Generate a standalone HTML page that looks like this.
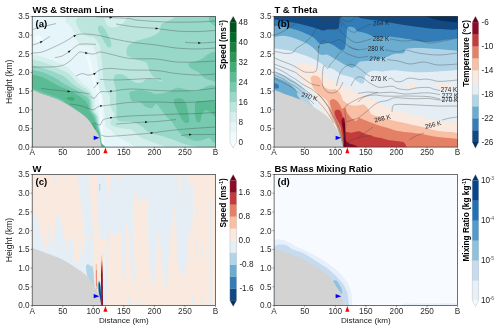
<!DOCTYPE html><html><head><meta charset="utf-8"><title>fig</title><style>html,body{margin:0;padding:0;background:#fff;}svg{display:block;}</style></head><body><svg width="500" height="330" viewBox="0 0 500 330">
<rect width="500" height="330" fill="#fff"/>
<defs><filter id="nf" x="0" y="0" width="500" height="330" filterUnits="userSpaceOnUse" color-interpolation-filters="sRGB"><feOffset dx="0" dy="0"/></filter>
<clipPath id="cpa"><rect x="32.2" y="16.4" width="183.3" height="130.7"/></clipPath>
<clipPath id="cpb"><rect x="274.1" y="16.4" width="183.5" height="130.7"/></clipPath>
<clipPath id="cpc"><rect x="32.2" y="174.5" width="183.3" height="131.0"/></clipPath>
<clipPath id="cpd"><rect x="274.1" y="174.5" width="183.5" height="131.0"/></clipPath>
</defs>
<g clip-path="url(#cpa)">
<rect x="32" y="16" width="184" height="132" fill="#98d8c9"/>
<path d="M130.0,92.0C131.7,91.0 136.7,90.0 140.0,90.0C143.3,90.0 147.3,91.3 150.0,92.0C152.7,92.7 153.0,94.0 156.0,94.0C159.0,94.0 164.7,93.0 168.0,92.0C171.3,91.0 173.3,88.5 176.0,88.0C178.7,87.5 180.7,88.5 184.0,89.0C187.3,89.5 190.7,91.2 196.0,91.0C201.3,90.8 212.7,79.9 216.0,88.0C219.3,96.1 217.2,131.2 216.0,139.5C214.8,147.8 211.0,138.0 209.0,138.0C207.0,138.0 205.8,139.0 204.0,139.5C202.2,140.0 200.0,140.9 198.0,141.0C196.0,141.1 194.7,141.0 192.0,140.0C189.3,139.0 184.7,137.0 182.0,135.0C179.3,133.0 177.7,130.2 176.0,128.0C174.3,125.8 173.7,124.0 172.0,122.0C170.3,120.0 168.0,118.3 166.0,116.0C164.0,113.7 161.7,110.0 160.0,108.0C158.3,106.0 157.3,104.0 156.0,104.0C154.7,104.0 153.7,107.5 152.0,108.0C150.3,108.5 148.0,108.0 146.0,107.0C144.0,106.0 142.3,103.0 140.0,102.0C137.7,101.0 133.7,102.0 132.0,101.0C130.3,100.0 130.3,97.5 130.0,96.0C129.7,94.5 128.3,93.0 130.0,92.0Z" fill="#77c9b0" />
<path d="M188.6,62.9C189.5,61.9 193.1,62.2 195.5,61.4C197.9,60.6 201.0,59.4 203.0,58.3C205.0,57.1 205.4,55.2 207.6,54.5C209.8,53.8 214.6,49.6 216.0,53.8C217.4,58.0 216.9,75.1 216.0,79.5C215.1,83.9 212.5,80.5 210.6,80.3C208.7,80.0 206.3,79.1 204.5,78.0C202.7,76.9 201.5,74.8 200.0,73.5C198.5,72.2 197.2,71.5 195.5,70.5C193.8,69.5 191.2,68.7 190.0,67.4C188.8,66.1 187.7,63.9 188.6,62.9Z" fill="#77c9b0" />
<path d="M210.0,15.0C211.3,14.2 215.8,13.2 217.0,15.0C218.2,16.8 217.8,24.5 217.0,26.0C216.2,27.5 213.3,25.0 212.0,24.0C210.7,23.0 209.3,21.5 209.0,20.0C208.7,18.5 208.7,15.8 210.0,15.0Z" fill="#77c9b0" />
<path d="M174.0,100.0C175.0,98.5 180.0,98.3 182.0,99.0C184.0,99.7 185.0,101.8 186.0,104.0C187.0,106.2 187.5,109.0 188.0,112.0C188.5,115.0 189.7,120.3 189.0,122.0C188.3,123.7 185.5,123.0 184.0,122.0C182.5,121.0 181.3,118.3 180.0,116.0C178.7,113.7 177.0,110.7 176.0,108.0C175.0,105.3 173.0,101.5 174.0,100.0Z" fill="#5abb95" />
<path d="M196.0,102.0C197.5,100.5 200.7,101.0 204.0,101.0C207.3,101.0 214.0,99.5 216.0,102.0C218.0,104.5 217.0,114.3 216.0,116.0C215.0,117.7 211.7,113.0 210.0,112.0C208.3,111.0 207.3,109.7 206.0,110.0C204.7,110.3 203.0,112.0 202.0,114.0C201.0,116.0 201.0,121.0 200.0,122.0C199.0,123.0 196.8,122.0 196.0,120.0C195.2,118.0 195.0,113.0 195.0,110.0C195.0,107.0 194.5,103.5 196.0,102.0Z" fill="#5abb95" />
<path d="M30.0,14.0C52.7,1.3 144.2,12.2 166.0,14.0C187.8,15.8 162.2,22.0 161.0,25.0C159.8,28.0 160.8,30.0 159.0,32.0C157.2,34.0 153.8,35.5 150.0,37.0C146.2,38.5 139.7,39.5 136.0,41.0C132.3,42.5 129.6,44.2 128.0,46.0C126.4,47.8 126.5,50.3 126.5,52.0C126.5,53.7 126.0,54.7 128.0,56.0C130.0,57.3 135.4,58.8 138.5,60.0C141.6,61.2 144.7,61.3 146.6,63.3C148.5,65.3 148.7,69.6 150.0,72.0C151.3,74.4 152.8,76.4 154.6,77.7C156.4,79.0 159.4,79.0 161.0,80.0C162.6,81.0 164.0,83.2 164.0,83.4C164.0,83.6 163.7,81.8 161.0,81.0C158.3,80.2 151.2,78.2 148.0,78.5C144.8,78.8 144.2,81.8 142.0,82.5C139.8,83.2 137.2,83.2 135.0,82.5C132.8,81.8 131.1,79.8 129.0,78.5C126.9,77.2 124.7,75.2 122.5,74.5C120.3,73.8 117.5,73.6 116.0,74.5C114.5,75.4 113.6,77.4 113.6,80.0C113.6,82.6 115.6,86.7 116.0,90.0C116.4,93.3 116.1,96.7 116.2,100.0C116.3,103.3 116.4,106.8 116.5,110.0C116.6,113.2 116.2,117.1 117.0,119.0C117.8,120.9 118.5,121.0 121.0,121.5C123.5,122.0 128.7,121.2 132.0,122.0C135.3,122.8 138.0,124.2 141.0,126.0C144.0,127.8 146.5,131.3 150.0,133.0C153.5,134.7 158.0,134.8 162.0,136.0C166.0,137.2 170.3,138.7 174.0,140.0C177.7,141.3 180.3,142.5 184.0,144.0C187.7,145.5 211.7,148.2 196.0,149.0C180.3,149.8 112.7,155.5 90.0,149.0C67.3,142.5 70.0,119.8 60.0,110.0C50.0,100.2 35.0,106.0 30.0,90.0C25.0,74.0 7.3,26.7 30.0,14.0Z" fill="#bce6dd" />
<path d="M98.0,27.0C98.3,26.1 99.5,25.3 100.5,25.5C101.5,25.7 102.8,26.4 104.0,28.0C105.2,29.6 106.8,32.7 108.0,35.0C109.2,37.3 110.5,40.1 111.0,42.0C111.5,43.9 111.5,45.7 111.0,46.5C110.5,47.3 109.1,47.8 108.0,47.0C106.9,46.2 105.7,43.8 104.5,42.0C103.3,40.2 102.0,37.8 101.0,36.0C100.0,34.2 99.0,32.5 98.5,31.0C98.0,29.5 97.7,27.9 98.0,27.0Z" fill="#98d8c9" />
<path d="M30.0,14.0C37.3,4.7 66.3,12.7 74.0,14.0C81.7,15.3 75.2,19.5 76.0,22.0C76.8,24.5 77.8,27.0 79.0,29.0C80.2,31.0 81.3,32.8 83.0,34.0C84.7,35.2 87.1,35.9 89.0,36.5C90.9,37.1 92.5,36.2 94.2,37.5C95.9,38.8 98.0,42.2 99.0,44.3C100.0,46.4 100.2,48.3 100.5,50.0C100.8,51.7 100.7,52.1 101.0,54.5C101.3,56.9 101.9,61.4 102.2,64.2C102.5,67.0 102.6,68.9 102.8,71.5C103.0,74.1 102.9,76.9 103.4,80.0C103.9,83.1 105.0,87.3 106.0,90.0C107.0,92.7 108.8,93.7 109.5,96.0C110.2,98.3 109.8,101.7 110.2,104.0C110.6,106.3 111.3,108.3 112.0,110.0C112.7,111.7 114.5,112.5 114.5,114.0C114.5,115.5 112.7,117.3 112.0,119.0C111.3,120.7 109.8,122.7 110.5,124.0C111.2,125.3 113.8,126.2 116.0,127.0C118.2,127.8 121.3,128.0 124.0,128.5C126.7,129.0 129.3,128.6 132.0,130.0C134.7,131.4 136.7,135.0 140.0,137.0C143.3,139.0 148.0,140.0 152.0,142.0C156.0,144.0 173.5,147.8 164.0,149.0C154.5,150.2 110.7,157.2 95.0,149.0C79.3,140.8 80.8,113.2 70.0,100.0C59.2,86.8 36.7,84.3 30.0,70.0C23.3,55.7 22.7,23.3 30.0,14.0Z" fill="#d4efec" />
<path d="M104.0,14.0C107.5,13.0 122.7,12.7 126.0,14.0C129.3,15.3 125.7,19.8 124.0,22.0C122.3,24.2 118.7,26.3 116.0,27.0C113.3,27.7 109.8,27.2 108.0,26.0C106.2,24.8 105.7,22.0 105.0,20.0C104.3,18.0 100.5,15.0 104.0,14.0Z" fill="#d4efec" />
<path d="M30.0,14.0C35.3,6.3 56.0,12.7 62.0,14.0C68.0,15.3 64.5,19.8 66.0,22.0C67.5,24.2 69.7,25.2 71.0,27.0C72.3,28.8 73.2,31.0 74.0,33.0C74.8,35.0 75.1,36.9 76.0,38.8C76.9,40.7 78.6,43.1 79.6,44.3C80.6,45.5 80.6,45.5 82.0,45.8C83.4,46.0 86.3,45.8 88.0,45.8C89.7,45.8 91.4,45.5 92.4,46.1C93.4,46.7 93.6,47.9 94.2,49.2C94.8,50.5 95.5,51.9 96.0,54.0C96.5,56.1 97.0,59.3 97.3,61.8C97.6,64.3 97.8,66.0 98.0,69.0C98.2,72.0 98.2,76.5 98.5,80.0C98.8,83.5 98.8,87.3 99.5,90.0C100.2,92.7 101.8,93.0 102.5,96.0C103.2,99.0 103.6,104.3 104.0,108.0C104.4,111.7 104.7,115.0 105.0,118.0C105.3,121.0 104.9,123.9 106.0,126.0C107.1,128.1 109.8,128.9 111.5,130.5C113.2,132.1 113.9,133.9 116.0,135.5C118.1,137.1 121.3,138.4 124.0,140.0C126.7,141.6 130.0,143.5 132.0,145.0C134.0,146.5 141.7,148.3 136.0,149.0C130.3,149.7 107.3,157.2 98.0,149.0C88.7,140.8 91.3,114.8 80.0,100.0C68.7,85.2 38.3,74.3 30.0,60.0C21.7,45.7 24.7,21.7 30.0,14.0Z" fill="#e5f5f9" />
<path d="M89.7,57.0C90.5,58.3 90.9,62.5 91.5,65.0C92.1,67.5 92.8,69.5 93.5,72.0C94.2,74.5 94.7,77.3 95.5,80.0C96.3,82.7 97.2,85.3 98.1,88.0C99.0,90.7 100.2,93.5 100.8,96.0C101.4,98.5 101.3,100.7 101.5,103.0C101.7,105.3 101.6,107.8 101.7,110.0C101.8,112.2 102.1,114.0 102.2,116.0C102.3,118.0 102.4,120.0 102.5,122.0C102.6,124.0 102.8,126.0 102.9,128.0C103.0,130.0 103.1,131.8 103.3,134.0C103.5,136.2 103.7,138.5 103.9,141.0C104.1,143.5 104.7,147.7 104.4,149.0C104.1,150.3 102.5,150.3 102.0,149.0C101.5,147.7 101.7,143.5 101.5,141.0C101.3,138.5 101.1,136.2 100.9,134.0C100.7,131.8 100.6,130.0 100.5,128.0C100.4,126.0 100.2,124.0 100.1,122.0C100.0,120.0 99.9,118.0 99.8,116.0C99.7,114.0 99.4,112.2 99.3,110.0C99.2,107.8 99.1,105.3 98.9,103.0C98.7,100.7 98.6,98.5 98.0,96.0C97.4,93.5 96.0,90.7 95.1,88.0C94.2,85.3 93.3,82.7 92.5,80.0C91.7,77.3 91.2,74.5 90.5,72.0C89.8,69.5 89.1,67.5 88.5,65.0C87.9,62.5 86.5,58.3 86.7,57.0C86.9,55.7 88.9,55.7 89.7,57.0Z" fill="#f1fafc" />
<path d="M35.0,37.0C35.5,35.8 37.8,34.8 39.0,35.0C40.2,35.2 41.8,36.8 42.0,38.0C42.2,39.2 41.0,41.3 40.0,42.0C39.0,42.7 36.8,42.8 36.0,42.0C35.2,41.2 34.5,38.2 35.0,37.0Z" fill="#f1fafc" />
<path d="M32.4,54.6C34.4,54.8 37.4,55.3 40.0,56.0C42.6,56.7 45.3,57.8 48.0,58.8C50.7,59.8 53.3,60.9 56.0,62.0C58.7,63.1 62.0,64.7 64.0,65.6C66.0,66.5 66.0,65.9 68.0,67.6C70.0,69.3 73.4,73.3 76.0,76.0C78.6,78.7 81.5,82.1 83.5,84.0C85.5,85.9 86.5,86.0 88.0,87.5C89.5,89.0 91.3,90.6 92.5,93.0C93.7,95.4 94.5,99.2 95.0,102.0C95.5,104.8 95.1,107.7 95.7,110.0C96.3,112.3 98.0,114.0 98.6,116.0C99.2,118.0 99.0,120.0 99.2,122.0C99.4,124.0 99.6,126.4 99.9,128.2C100.2,130.0 100.7,131.2 101.0,133.0C101.3,134.8 101.4,137.2 101.6,139.0C101.8,140.8 101.9,142.6 102.1,144.0C102.2,145.4 102.4,146.3 102.5,147.5C102.6,148.7 114.9,150.4 102.5,151.0C90.1,151.6 40.4,167.1 28.0,151.0C15.6,134.9 27.3,70.7 28.0,54.6C28.7,38.5 30.4,54.4 32.4,54.6Z" fill="#d4efec" />
<path d="M32.4,59.6C35.1,60.1 40.7,61.4 44.0,62.4C47.3,63.4 49.3,64.5 52.0,65.6C54.7,66.7 57.3,68.0 60.0,69.2C62.7,70.4 65.8,71.5 68.0,73.0C70.2,74.5 71.3,76.2 73.0,78.0C74.7,79.8 76.5,82.1 78.0,83.5C79.5,84.9 80.3,85.2 82.0,86.4C83.7,87.6 86.3,88.5 88.0,90.4C89.7,92.3 91.1,94.7 92.0,98.0C92.9,101.3 92.7,107.0 93.6,110.0C94.5,113.0 96.7,114.0 97.5,116.0C98.3,118.0 98.2,120.0 98.5,122.0C98.8,124.0 99.1,126.4 99.5,128.2C99.9,130.0 100.4,131.2 100.7,133.0C101.0,134.8 101.1,137.2 101.3,139.0C101.5,140.8 101.7,142.6 101.9,144.0C102.1,145.4 102.2,146.3 102.3,147.5C102.4,148.7 114.7,150.4 102.3,151.0C89.9,151.6 40.4,166.2 28.0,151.0C15.6,135.8 27.3,74.8 28.0,59.6C28.7,44.4 29.7,59.1 32.4,59.6Z" fill="#bce6dd" />
<path d="M32.4,65.4C34.4,65.7 37.4,66.5 40.0,67.2C42.6,67.9 45.3,68.7 48.0,69.6C50.7,70.5 53.3,71.6 56.0,72.8C58.7,74.0 61.3,74.8 64.0,76.6C66.7,78.4 70.0,81.9 72.0,83.5C74.0,85.1 74.3,85.3 76.0,86.4C77.7,87.5 80.0,88.7 82.0,90.0C84.0,91.3 86.5,92.5 88.0,94.3C89.5,96.1 90.3,98.4 91.0,101.0C91.7,103.6 91.2,107.5 92.1,110.0C93.0,112.5 95.4,114.0 96.3,116.0C97.2,118.0 97.1,120.0 97.6,122.0C98.0,124.0 98.5,126.4 99.0,128.2C99.5,130.0 100.1,131.2 100.4,133.0C100.7,134.8 100.8,137.2 101.0,139.0C101.2,140.8 101.5,142.6 101.7,144.0C101.9,145.4 102.0,146.3 102.1,147.5C102.2,148.7 114.4,150.4 102.1,151.0C89.8,151.6 40.4,165.3 28.0,151.0C15.7,136.7 27.3,79.7 28.0,65.4C28.7,51.1 30.4,65.1 32.4,65.4Z" fill="#98d8c9" />
<path d="M32.4,69.9C34.4,70.2 37.4,70.8 40.0,71.6C42.6,72.3 45.6,73.4 48.0,74.4C50.4,75.4 52.4,76.5 54.4,77.6C56.4,78.7 58.4,80.0 60.0,81.0C61.6,82.0 62.3,82.8 64.0,83.8C65.7,84.8 68.0,86.0 70.0,87.0C72.0,88.0 74.0,88.8 76.0,90.0C78.0,91.2 80.0,92.6 82.0,94.0C84.0,95.4 86.7,96.5 88.0,98.2C89.3,99.9 89.5,102.0 90.0,104.0C90.5,106.0 89.9,108.0 90.7,110.0C91.5,112.0 93.8,114.0 94.8,116.0C95.8,118.0 96.1,120.0 96.7,122.0C97.3,124.0 98.0,126.4 98.5,128.2C99.0,130.0 99.6,131.2 100.0,133.0C100.4,134.8 100.5,137.2 100.8,139.0C101.0,140.8 101.3,142.6 101.5,144.0C101.7,145.4 101.8,146.3 101.9,147.5C102.0,148.7 114.2,150.4 101.9,151.0C89.6,151.6 40.3,164.5 28.0,151.0C15.7,137.5 27.3,83.4 28.0,69.9C28.7,56.4 30.4,69.6 32.4,69.9Z" fill="#77c9b0" />
<path d="M32.4,74.7C34.1,74.9 36.5,75.5 38.4,76.0C40.3,76.5 41.7,77.0 44.0,78.0C46.3,79.0 49.7,81.0 52.0,82.3C54.3,83.5 56.0,84.5 58.0,85.5C60.0,86.5 62.0,87.3 64.0,88.2C66.0,89.1 68.0,89.7 70.0,90.7C72.0,91.7 74.0,92.8 76.0,94.0C78.0,95.2 80.3,96.8 82.0,98.0C83.7,99.2 85.0,100.2 86.0,101.5C87.0,102.8 87.8,104.1 88.3,105.5C88.8,106.9 88.4,108.2 89.2,110.0C90.0,111.8 92.0,114.0 93.0,116.0C94.0,118.0 94.7,120.0 95.5,122.0C96.3,124.0 97.0,126.4 97.6,128.2C98.2,130.0 98.9,131.4 99.3,133.0C99.7,134.6 100.0,136.6 100.2,138.0C100.4,139.4 100.5,139.3 100.5,141.5C100.5,143.7 112.6,149.4 100.5,151.0C88.4,152.6 40.1,163.7 28.0,151.0C15.9,138.3 27.3,87.4 28.0,74.7C28.7,62.0 30.7,74.5 32.4,74.7Z" fill="#5abb95" />
<path d="M66.2,98.3C66.3,97.8 68.0,97.2 69.0,97.0C70.0,96.8 71.5,96.9 72.5,97.2C73.5,97.5 74.5,98.1 74.7,98.6C75.0,99.1 74.6,99.9 74.0,100.3C73.4,100.7 71.9,100.8 71.0,100.8C70.1,100.8 69.3,100.4 68.5,100.0C67.7,99.6 66.1,98.8 66.2,98.3Z" fill="#40ad75" />
<path d="M91.3,122.5C91.4,122.1 92.9,123.2 93.6,124.0C94.3,124.8 95.2,126.5 95.6,127.5C96.0,128.5 96.3,129.7 96.2,130.0C96.1,130.3 95.4,130.1 94.8,129.5C94.2,128.9 93.4,127.7 92.8,126.5C92.2,125.3 91.2,122.9 91.3,122.5Z" fill="#40ad75" />
<path d="M32.4,90.0C33.7,90.5 37.4,91.9 40.0,92.9C42.6,93.9 45.3,94.8 48.0,95.8C50.7,96.8 53.3,97.7 56.0,98.8C58.7,99.9 62.7,101.9 64.0,102.5" fill="none" stroke="#77c9b0" stroke-width="1.6" stroke-opacity="0.8" transform="translate(0.3,-0.9)"/>
<path d="M32.4,90.0C33.7,90.5 37.4,91.9 40.0,92.9C42.6,93.9 45.3,94.8 48.0,95.8C50.7,96.8 53.3,97.7 56.0,98.8C58.7,99.9 61.7,101.3 64.0,102.5C66.3,103.7 67.8,104.7 70.0,106.0C72.2,107.3 75.0,109.2 77.0,110.5C79.0,111.8 80.3,112.7 82.0,114.0C83.7,115.3 85.5,116.7 87.0,118.2C88.5,119.7 89.8,121.5 91.0,123.2C92.2,124.9 93.3,127.0 94.3,128.5C95.3,130.1 96.2,131.2 97.0,132.5C97.8,133.8 98.3,134.8 98.8,136.0C99.3,137.2 99.6,138.4 100.0,140.0C100.4,141.6 100.8,144.3 101.0,145.5C101.2,146.7 101.4,146.9 101.5,147.2L32.4,147.2Z" fill="#d3d3d3"/>
<path d="M96.0,16.8C98.7,16.9 106.3,17.3 112.0,17.6C117.7,17.9 126.0,18.2 130.0,18.6C134.0,19.0 130.0,19.4 136.0,20.0C142.0,20.6 156.0,21.7 166.0,22.0C176.0,22.3 187.7,22.2 196.0,22.0C204.3,21.8 212.3,21.2 215.6,21.0" fill="none" stroke="#444" stroke-width="0.35" />
<path d="M32.4,29.5C34.5,28.9 41.1,27.2 45.0,26.2C48.9,25.2 54.2,24.0 56.0,23.6" fill="none" stroke="#444" stroke-width="0.35" />
<path d="M32.4,45.0C33.8,44.5 38.1,43.4 41.0,42.0C43.9,40.6 48.5,37.3 50.0,36.4" fill="none" stroke="#444" stroke-width="0.35" />
<path d="M32.4,53.0C34.0,52.8 38.4,53.0 42.0,52.0C45.6,51.0 50.0,48.8 54.0,47.0C58.0,45.2 62.5,42.9 66.0,41.0C69.5,39.1 72.3,36.8 75.0,35.6C77.7,34.4 78.5,34.1 82.0,34.0C85.5,33.9 91.3,34.3 96.0,35.0C100.7,35.7 104.3,36.8 110.0,38.0C115.7,39.2 122.3,40.8 130.0,42.0C137.7,43.2 148.3,44.0 156.0,45.0C163.7,46.0 169.3,47.3 176.0,48.0C182.7,48.7 189.4,49.0 196.0,49.0C202.6,49.0 212.3,48.2 215.6,48.0" fill="none" stroke="#444" stroke-width="0.35" />
<path d="M55.0,57.6C56.2,57.3 59.5,57.1 62.0,56.0C64.5,54.9 67.7,52.7 70.0,51.0C72.3,49.3 74.0,47.2 76.0,46.0C78.0,44.8 78.7,44.3 82.0,44.0C85.3,43.7 93.7,44.3 96.0,44.4" fill="none" stroke="#444" stroke-width="0.35" />
<path d="M32.4,67.0C35.3,67.0 45.1,67.2 50.0,67.0C54.9,66.8 58.7,66.6 62.0,65.6C65.3,64.6 67.7,62.8 70.0,61.0C72.3,59.2 74.3,56.5 76.0,55.0C77.7,53.5 78.3,52.3 80.0,52.0C81.7,51.7 83.7,52.7 86.0,53.0C88.3,53.3 91.7,54.2 94.0,54.0C96.3,53.8 97.3,52.0 100.0,52.0C102.7,52.0 105.0,52.9 110.0,54.0C115.0,55.1 122.3,57.7 130.0,58.5C137.7,59.3 148.3,58.4 156.0,59.0C163.7,59.6 169.3,61.5 176.0,62.0C182.7,62.5 189.4,62.2 196.0,62.0C202.6,61.8 212.3,61.2 215.6,61.0" fill="none" stroke="#444" stroke-width="0.35" />
<path d="M76.0,76.0C77.0,75.6 80.0,73.8 82.0,73.6C84.0,73.4 86.0,74.9 88.0,75.0C90.0,75.1 92.0,74.8 94.0,74.0C96.0,73.2 97.3,70.9 100.0,70.0C102.7,69.1 105.0,68.4 110.0,68.4C115.0,68.4 122.3,69.7 130.0,70.0C137.7,70.3 148.3,69.9 156.0,70.5C163.7,71.1 169.3,72.8 176.0,73.5C182.7,74.2 189.4,74.9 196.0,75.0C202.6,75.1 212.3,74.2 215.6,74.0" fill="none" stroke="#444" stroke-width="0.35" />
<path d="M116.0,24.0C119.3,24.5 129.3,26.3 136.0,27.0C142.7,27.7 149.3,27.7 156.0,28.4C162.7,29.1 169.3,30.5 176.0,31.0C182.7,31.5 189.4,31.7 196.0,31.6C202.6,31.5 212.3,30.6 215.6,30.4" fill="none" stroke="#444" stroke-width="0.35" />
<path d="M185.0,42.4C187.5,42.5 194.9,43.1 200.0,43.0C205.1,42.9 213.0,42.2 215.6,42.0" fill="none" stroke="#444" stroke-width="0.35" />
<path d="M41.0,88.4C43.2,88.7 49.5,89.5 54.0,90.0C58.5,90.5 63.7,91.0 68.0,91.4C72.3,91.8 76.3,92.0 80.0,92.4C83.7,92.8 88.3,93.7 90.0,94.0" fill="none" stroke="#444" stroke-width="0.35" />
<path d="M90.0,95.6C90.7,96.1 92.7,98.7 94.0,98.4C95.3,98.1 96.8,95.1 98.0,94.0C99.2,92.9 99.0,92.0 101.0,91.6C103.0,91.2 105.2,92.0 110.0,91.6C114.8,91.2 122.3,89.2 130.0,89.0C137.7,88.8 148.3,90.1 156.0,90.4C163.7,90.7 169.3,91.0 176.0,91.0C182.7,91.0 189.4,90.9 196.0,90.4C202.6,89.9 212.3,88.4 215.6,88.0" fill="none" stroke="#444" stroke-width="0.35" />
<path d="M94.0,88.0 L98.0,83.0" fill="none" stroke="#444" stroke-width="0.35" />
<path d="M70.0,104.0C71.7,104.3 76.7,104.8 80.0,105.6C83.3,106.4 87.7,108.3 90.0,109.0C92.3,109.7 92.5,110.0 94.0,109.6C95.5,109.2 96.3,107.2 99.0,106.4C101.7,105.6 104.8,105.7 110.0,105.0C115.2,104.3 122.3,102.9 130.0,102.4C137.7,101.9 148.3,102.0 156.0,102.0C163.7,102.0 169.3,102.6 176.0,102.6C182.7,102.6 189.4,102.4 196.0,102.0C202.6,101.6 212.3,100.7 215.6,100.4" fill="none" stroke="#444" stroke-width="0.35" />
<path d="M94.0,123.0C95.0,123.3 98.5,125.5 100.0,125.0C101.5,124.5 101.3,121.2 103.0,120.0C104.7,118.8 105.5,118.7 110.0,118.0C114.5,117.3 122.3,116.5 130.0,116.0C137.7,115.5 148.3,115.3 156.0,115.0C163.7,114.7 169.3,114.2 176.0,114.0C182.7,113.8 189.4,113.9 196.0,113.6C202.6,113.3 212.3,112.6 215.6,112.4" fill="none" stroke="#444" stroke-width="0.35" />
<path d="M116.0,124.0C119.3,123.8 131.0,122.9 136.0,122.6C141.0,122.3 142.7,122.2 146.0,122.0C149.3,121.8 151.0,122.0 156.0,121.6C161.0,121.2 172.7,119.9 176.0,119.6" fill="none" stroke="#444" stroke-width="0.35" />
<path d="M101.0,135.0C101.8,135.2 103.5,136.2 106.0,136.4C108.5,136.6 111.0,136.3 116.0,136.0C121.0,135.7 130.0,134.9 136.0,134.4C142.0,133.9 147.0,133.6 152.0,133.0C157.0,132.4 160.3,131.7 166.0,131.0C171.7,130.3 177.7,129.7 186.0,129.0C194.3,128.3 210.7,127.3 215.6,127.0" fill="none" stroke="#444" stroke-width="0.35" />
<path d="M181.0,135.6C182.5,135.4 184.2,134.8 190.0,134.6C195.8,134.4 211.3,134.4 215.6,134.4" fill="none" stroke="#444" stroke-width="0.35" />
<path d="M100.0,79.4C102.7,79.5 110.7,80.0 116.0,80.0C121.3,80.0 126.7,79.6 132.0,79.4C137.3,79.2 143.2,78.7 148.0,78.6C152.8,78.5 158.8,78.9 161.0,79.0" fill="none" stroke="#444" stroke-width="0.35" />
<path d="M112.34,17.62L109.59,18.63L109.70,16.33Z" fill="#111"/>
<path d="M42.58,41.02L40.89,43.42L39.68,41.47Z" fill="#111"/>
<path d="M76.16,34.91L74.43,37.28L73.25,35.31Z" fill="#111"/>
<path d="M70.71,50.55L69.03,52.96L67.81,51.01Z" fill="#111"/>
<path d="M87.93,53.24L85.11,54.05L85.39,51.77Z" fill="#111"/>
<path d="M95.91,72.73L94.30,75.18L93.02,73.27Z" fill="#111"/>
<path d="M158.32,28.70L155.50,29.49L155.79,27.21Z" fill="#111"/>
<path d="M200.94,43.04L198.20,44.08L198.29,41.78Z" fill="#111"/>
<path d="M70.34,91.59L67.55,92.52L67.74,90.22Z" fill="#111"/>
<path d="M110.98,92.47L109.78,90.47L112.18,90.47Z" fill="#111"/>
<path d="M97.55,84.56L96.35,82.56L98.75,82.56Z" fill="#111"/>
<path d="M100.89,107.16L99.69,105.16L102.09,105.16Z" fill="#111"/>
<path d="M110.95,118.90L109.75,116.90L112.15,116.90Z" fill="#111"/>
<path d="M147.75,121.93L145.10,123.19L145.00,120.89Z" fill="#111"/>
<path d="M153.35,132.81L150.84,134.33L150.51,132.05Z" fill="#111"/>
<path d="M191.75,134.59L189.06,135.76L189.04,133.46Z" fill="#111"/>
</g>
<path d="M93.7,135.7L99.4,137.79999999999998L93.7,139.89999999999998Z" fill="#0000ff"/><path d="M103.4,153.29999999999998L105.45,147.5L107.5,153.29999999999998Z" fill="#ff0000"/>
<rect x="32.2" y="16.4" width="183.3" height="130.7" fill="none" stroke="#333" stroke-width="0.7"/>
<path d="M30.6,147.10H32.2" stroke="#333" stroke-width="0.5"/>
<path d="M30.6,128.43H32.2" stroke="#333" stroke-width="0.5"/>
<path d="M30.6,109.76H32.2" stroke="#333" stroke-width="0.5"/>
<path d="M30.6,91.09H32.2" stroke="#333" stroke-width="0.5"/>
<path d="M30.6,72.41H32.2" stroke="#333" stroke-width="0.5"/>
<path d="M30.6,53.74H32.2" stroke="#333" stroke-width="0.5"/>
<path d="M30.6,35.07H32.2" stroke="#333" stroke-width="0.5"/>
<path d="M30.6,16.40H32.2" stroke="#333" stroke-width="0.5"/>
<path d="M32.20,147.1V148.7" stroke="#333" stroke-width="0.5"/>
<path d="M62.75,147.1V148.7" stroke="#333" stroke-width="0.5"/>
<path d="M93.30,147.1V148.7" stroke="#333" stroke-width="0.5"/>
<path d="M123.85,147.1V148.7" stroke="#333" stroke-width="0.5"/>
<path d="M154.40,147.1V148.7" stroke="#333" stroke-width="0.5"/>
<path d="M184.95,147.1V148.7" stroke="#333" stroke-width="0.5"/>
<path d="M215.50,147.1V148.7" stroke="#333" stroke-width="0.5"/>
<rect x="229.9" y="132.20" width="6.60" height="10.20" fill="#f1fafc"/>
<rect x="229.9" y="122.20" width="6.60" height="10.20" fill="#e5f5f9"/>
<rect x="229.9" y="112.20" width="6.60" height="10.20" fill="#d4efec"/>
<rect x="229.9" y="102.20" width="6.60" height="10.20" fill="#bce6dd"/>
<rect x="229.9" y="92.20" width="6.60" height="10.20" fill="#98d8c9"/>
<rect x="229.9" y="82.20" width="6.60" height="10.20" fill="#77c9b0"/>
<rect x="229.9" y="72.20" width="6.60" height="10.20" fill="#5abb95"/>
<rect x="229.9" y="62.20" width="6.60" height="10.20" fill="#40ad75"/>
<rect x="229.9" y="52.20" width="6.60" height="10.20" fill="#2d9655"/>
<rect x="229.9" y="42.20" width="6.60" height="10.20" fill="#17813d"/>
<rect x="229.9" y="32.20" width="6.60" height="10.20" fill="#006c2c"/>
<rect x="229.9" y="22.20" width="6.60" height="10.20" fill="#005120"/>
<path d="M229.9,22.3L233.2,16.2L236.5,22.3Z" fill="#00441b"/>
<path d="M229.9,142.1L233.2,148.2L236.5,142.1Z" fill="#f7fcfd"/>
<path d="M229.9,22.2L233.2,16.2L236.5,22.2V142.2L233.2,148.2L229.9,142.2Z" fill="none" stroke="#888" stroke-width="0.25"/>
<g clip-path="url(#cpb)">
<rect x="272" y="14" width="188" height="136" fill="#e4eef4"/>
<path d="M270.0,10.0C238.0,16.4 269.3,42.0 270.0,48.4C270.7,54.8 272.6,48.3 274.2,48.4C275.8,48.5 276.7,48.6 279.3,49.0C281.9,49.4 286.2,49.9 290.0,50.8C293.8,51.7 298.2,53.1 302.3,54.5C306.4,55.9 310.9,57.6 314.4,59.3C317.8,61.0 320.7,63.5 323.0,64.8C325.3,66.1 326.2,66.4 328.0,67.2C329.8,68.0 332.0,68.5 334.0,69.6C336.0,70.7 338.2,72.9 340.2,73.9C342.2,74.9 344.2,75.1 346.2,75.7C348.2,76.3 350.5,76.6 352.3,77.5C354.1,78.4 355.4,80.2 357.0,81.2C358.6,82.2 360.8,83.6 362.0,83.6C363.2,83.6 363.9,82.4 364.4,81.2C364.9,80.0 364.4,77.7 365.0,76.3C365.6,74.9 366.7,73.6 368.0,72.7C369.3,71.8 370.7,71.0 373.0,70.8C375.3,70.6 379.2,71.5 382.0,71.5C384.8,71.5 387.3,70.7 390.0,70.5C392.7,70.3 393.3,70.2 398.0,70.5C402.7,70.8 411.3,72.1 418.0,72.3C424.7,72.5 431.3,71.9 438.0,71.5C444.7,71.1 454.0,70.2 458.0,70.0C462.0,69.8 461.3,80.0 462.0,70.0C462.7,60.0 494.0,20.0 462.0,10.0C430.0,0.0 302.0,3.6 270.0,10.0Z" fill="#b1d5e7" />
<path d="M270.0,10.0C238.0,14.5 269.3,32.5 270.0,37.0C270.7,41.5 271.9,37.2 274.2,37.0C276.5,36.8 280.4,35.5 284.0,35.8C287.6,36.1 292.0,37.4 296.0,38.8C300.0,40.2 304.9,42.6 308.0,44.3C311.1,46.0 312.6,47.5 314.4,49.0C316.2,50.5 317.7,52.5 319.0,53.5C320.3,54.5 320.7,54.8 322.0,55.0C323.3,55.2 325.2,54.2 326.8,54.5C328.4,54.8 329.9,56.0 331.7,57.0C333.5,58.0 335.8,59.3 337.8,60.5C339.8,61.7 342.0,63.2 343.8,64.2C345.6,65.2 347.3,66.0 348.7,66.6C350.1,67.2 351.1,68.0 352.3,67.8C353.5,67.6 354.8,66.4 356.0,65.4C357.2,64.4 358.2,62.5 359.6,61.8C361.0,61.1 362.6,61.4 364.4,61.2C366.2,61.0 367.2,61.0 370.5,60.5C373.8,60.0 380.1,59.1 384.0,58.0C387.9,56.9 390.7,54.8 394.0,54.0C397.3,53.2 402.0,53.8 404.0,53.0C406.0,52.2 403.7,49.8 406.0,49.0C408.3,48.2 412.7,48.0 418.0,48.0C423.3,48.0 431.3,48.5 438.0,49.0C444.7,49.5 454.0,50.7 458.0,51.0C462.0,51.3 461.3,57.8 462.0,51.0C462.7,44.2 494.0,16.8 462.0,10.0C430.0,3.2 302.0,5.5 270.0,10.0Z" fill="#6bacd1" />
<path d="M270.0,10.0C238.0,12.7 269.3,23.3 270.0,26.0C270.7,28.7 271.9,25.9 274.2,26.0C276.5,26.1 280.4,26.1 284.0,26.7C287.6,27.3 292.0,28.5 296.0,29.8C300.0,31.1 304.9,33.2 308.0,34.6C311.1,36.0 312.6,36.9 314.4,38.2C316.1,39.5 317.2,41.5 318.5,42.5C319.8,43.5 320.4,44.2 322.0,44.3C323.6,44.4 326.0,42.8 328.0,43.0C330.0,43.2 332.0,44.4 334.0,45.5C336.0,46.6 338.5,49.2 340.2,49.8C341.9,50.4 343.5,49.9 344.4,49.0C345.3,48.1 345.3,46.1 345.6,44.3C345.9,42.5 346.0,40.2 346.2,38.2C346.4,36.2 346.6,34.0 346.8,32.2C347.0,30.4 346.8,28.5 347.5,27.6C348.2,26.7 349.8,26.6 351.0,26.7C352.2,26.8 353.7,27.3 354.7,28.0C355.7,28.7 355.8,30.3 357.0,31.0C358.2,31.7 360.2,31.7 362.0,32.2C363.8,32.7 366.2,33.3 368.0,34.0C369.8,34.7 370.7,35.8 373.0,36.4C375.3,37.0 379.5,37.6 382.0,37.6C384.5,37.6 383.7,36.3 388.0,36.5C392.3,36.7 402.0,38.1 408.0,39.0C414.0,39.9 419.0,41.7 424.0,42.0C429.0,42.3 432.3,41.7 438.0,41.0C443.7,40.3 454.0,38.5 458.0,38.0C462.0,37.5 461.3,42.7 462.0,38.0C462.7,33.3 494.0,14.7 462.0,10.0C430.0,5.3 302.0,7.3 270.0,10.0Z" fill="#327cb7" />
<path d="M270.0,12.0C258.5,13.2 269.3,18.1 270.0,19.3C270.7,20.6 272.1,19.2 274.4,19.5C276.7,19.8 280.4,20.7 284.0,21.3C287.6,21.9 292.0,22.2 296.0,23.0C300.0,23.8 304.3,25.0 308.0,26.0C311.7,27.0 315.5,28.3 318.0,29.0C320.5,29.7 321.4,30.4 323.0,30.4C324.6,30.4 326.1,29.3 327.8,29.2C329.5,29.1 331.2,29.7 333.0,29.5C334.8,29.3 337.4,29.1 338.4,28.2C339.4,27.3 339.0,25.5 339.2,24.0C339.4,22.5 339.6,21.0 339.6,19.0C339.6,17.0 350.8,13.2 339.2,12.0C327.6,10.8 281.5,10.8 270.0,12.0Z" fill="#124984" />
<path d="M355.0,12.0C337.8,12.7 355.4,15.3 357.0,16.4C358.6,17.5 361.7,18.2 364.4,18.8C367.1,19.4 370.1,19.6 373.0,20.0C375.9,20.4 377.8,20.6 382.0,21.3C386.2,22.0 392.0,23.1 398.0,24.0C404.0,24.9 411.3,26.2 418.0,27.0C424.7,27.8 431.0,28.8 438.0,29.0C445.0,29.2 456.3,30.8 460.0,28.0C463.7,25.2 477.5,14.7 460.0,12.0C442.5,9.3 372.2,11.3 355.0,12.0Z" fill="#124984" />
<path d="M424.0,14.0C427.7,13.0 454.0,12.7 460.0,14.0C466.0,15.3 463.7,21.0 460.0,22.0C456.3,23.0 444.0,21.3 438.0,20.0C432.0,18.7 420.3,15.0 424.0,14.0Z" fill="#053061" />
<path d="M296.7,64.7C297.6,63.8 299.9,63.0 302.0,62.8C304.1,62.6 307.1,62.9 309.4,63.5C311.6,64.1 313.7,65.2 315.5,66.5C317.3,67.8 318.7,69.7 320.3,71.3C321.9,72.9 323.6,74.9 325.2,76.2C326.8,77.5 328.4,78.0 330.0,79.0C331.6,80.0 333.3,81.0 335.0,82.0C336.7,83.0 338.3,84.2 340.0,85.0C341.7,85.8 343.3,86.3 345.0,87.0C346.7,87.7 348.3,88.2 350.0,89.0C351.7,89.8 353.3,90.7 355.0,91.5C356.7,92.3 358.3,93.2 360.0,94.0C361.7,94.8 363.3,95.8 365.0,96.5C366.7,97.2 368.3,97.3 370.0,98.0C371.7,98.7 372.5,99.1 375.0,100.5C377.5,101.9 381.5,104.8 385.0,106.5C388.5,108.2 392.2,109.3 396.2,110.5C400.2,111.7 405.0,112.8 409.0,113.8C413.0,114.8 415.2,115.0 420.0,116.2C424.8,117.4 431.3,119.5 438.0,121.0C444.7,122.5 456.3,120.2 460.0,125.0C463.7,129.8 479.4,145.8 460.0,150.0C440.6,154.2 363.1,150.5 343.7,150.0C324.3,149.5 344.0,148.7 343.7,147.2C343.4,145.7 342.5,143.4 341.7,141.0C340.9,138.6 339.8,135.3 338.7,133.0C337.6,130.7 336.4,128.9 335.2,127.0C334.0,125.1 332.7,123.0 331.5,121.5C330.3,120.0 329.3,119.2 328.2,118.0C327.1,116.8 325.9,115.8 325.0,114.5C324.1,113.2 323.3,111.9 322.5,110.5C321.7,109.1 320.8,107.5 320.2,106.0C319.6,104.5 319.1,103.1 318.6,101.8C318.1,100.5 317.9,99.4 317.2,98.1C316.4,96.8 315.3,95.3 314.1,93.9C312.9,92.5 311.2,90.9 309.9,89.6C308.6,88.3 307.5,87.5 306.2,86.0C304.9,84.5 303.2,82.4 302.1,80.9C301.0,79.5 300.4,78.5 299.7,77.3C299.0,76.1 298.4,74.6 297.9,73.6C297.4,72.5 297.1,71.9 296.8,71.0C296.6,70.1 296.4,69.0 296.4,68.0C296.4,67.0 295.8,65.6 296.7,64.7Z" fill="#fae9df" />
<path d="M404.6,84.2C404.9,83.5 408.2,83.6 410.0,83.6C411.8,83.6 414.7,83.5 415.4,84.2C416.1,84.9 415.2,87.0 414.0,87.6C412.8,88.2 409.6,88.4 408.0,87.8C406.4,87.2 404.3,84.9 404.6,84.2Z" fill="#fae9df" />
<path d="M435.6,84.0C436.1,83.1 440.6,83.4 443.0,83.4C445.4,83.4 448.5,83.0 450.0,83.8C451.5,84.6 452.7,87.6 452.0,88.5C451.3,89.4 448.0,89.1 446.0,89.2C444.0,89.3 441.7,89.9 440.0,89.0C438.3,88.1 435.1,84.9 435.6,84.0Z" fill="#fae9df" />
<path d="M310.6,78.0C311.0,77.3 312.3,75.8 313.6,75.6C314.9,75.4 317.3,76.0 318.5,76.8C319.7,77.6 320.3,79.1 321.0,80.4C321.7,81.7 321.8,83.4 322.7,84.7C323.6,86.0 325.0,87.5 326.4,88.3C327.8,89.1 329.8,89.7 331.2,89.8C332.6,89.9 333.7,88.6 335.0,89.0C336.3,89.4 337.9,90.8 339.0,92.0C340.1,93.2 340.9,94.7 341.5,96.0C342.1,97.3 342.1,99.0 342.7,100.0C343.3,101.0 343.9,101.2 345.0,102.0C346.1,102.8 347.7,103.9 349.0,104.5C350.3,105.1 351.5,105.3 353.0,105.5C354.5,105.7 356.3,105.7 358.0,105.5C359.7,105.3 361.7,104.3 363.0,104.5C364.3,104.7 365.0,105.6 366.0,106.5C367.0,107.4 368.0,108.7 369.0,110.0C370.0,111.3 369.9,113.2 372.0,114.5C374.1,115.8 378.3,116.5 381.8,117.5C385.3,118.5 389.2,119.6 393.0,120.5C396.8,121.4 399.8,122.0 404.3,123.0C408.8,124.0 414.4,125.2 420.0,126.5C425.6,127.8 431.3,129.7 438.0,131.0C444.7,132.3 456.3,131.2 460.0,134.4C463.7,137.6 479.4,147.4 460.0,150.0C440.6,152.6 363.2,150.5 343.9,150.0C324.5,149.5 344.2,148.7 343.9,147.2C343.6,145.7 342.9,143.4 342.2,141.0C341.5,138.6 340.6,135.3 339.7,133.0C338.8,130.7 337.8,129.0 336.7,127.0C335.6,125.0 334.1,122.7 333.2,121.0C332.2,119.3 331.6,118.5 331.0,117.0C330.4,115.5 329.8,113.5 329.5,112.0C329.2,110.5 329.2,109.3 329.0,108.0C328.8,106.7 328.9,105.3 328.4,104.0C327.9,102.7 327.4,101.3 326.2,100.0C325.0,98.7 322.9,97.5 321.4,96.3C319.9,95.1 318.4,93.8 317.2,92.7C316.0,91.6 314.9,90.7 314.1,89.6C313.3,88.5 312.7,87.1 312.3,86.0C311.9,84.9 311.8,84.0 311.6,83.0C311.4,82.0 311.2,80.5 311.0,79.7C310.8,78.9 310.2,78.7 310.6,78.0Z" fill="#f8bfa4" />
<path d="M329.8,101.0C330.2,100.0 331.8,99.0 333.0,99.0C334.2,99.0 335.8,100.0 337.0,101.0C338.2,102.0 339.2,103.8 340.0,105.0C340.8,106.2 341.1,108.0 341.7,108.5C342.3,109.0 342.9,108.1 343.5,108.0C344.1,107.9 344.4,106.9 345.0,107.8C345.6,108.7 346.6,111.8 347.4,113.2C348.2,114.7 349.1,115.5 350.0,116.5C350.9,117.5 351.9,119.2 352.9,119.2C353.9,119.2 354.7,116.6 356.0,116.5C357.3,116.4 359.0,117.8 360.9,118.6C362.8,119.3 364.9,120.1 367.3,121.0C369.7,121.9 371.8,123.0 375.3,124.2C378.8,125.4 384.4,126.9 388.2,128.0C392.0,129.1 393.0,130.1 398.0,131.0C403.0,131.9 411.3,132.5 418.0,133.5C424.7,134.5 431.0,135.9 438.0,137.0C445.0,138.1 456.3,137.8 460.0,140.0C463.7,142.2 479.3,148.3 460.0,150.0C440.7,151.7 363.3,150.5 344.0,150.0C324.7,149.5 344.2,148.7 344.0,147.2C343.8,145.7 343.2,143.5 342.5,141.0C341.8,138.5 340.9,134.7 340.0,132.0C339.1,129.3 338.1,127.2 337.2,125.0C336.3,122.8 335.6,120.8 334.9,119.0C334.2,117.2 333.7,115.5 333.2,114.0C332.7,112.5 332.1,111.5 331.7,110.0C331.2,108.5 330.8,106.8 330.5,105.3C330.2,103.8 329.4,102.0 329.8,101.0Z" fill="#e48066" />
<path d="M334.7,111.4C335.1,110.3 336.7,109.6 337.7,109.6C338.7,109.6 340.0,110.3 340.8,111.4C341.6,112.5 342.1,114.6 342.6,116.2C343.1,117.8 343.5,119.4 343.8,121.0C344.1,122.6 344.4,124.3 344.6,126.0C344.8,127.7 344.4,129.9 345.0,131.0C345.6,132.1 346.9,132.0 348.0,132.3C349.1,132.6 350.6,132.8 351.8,132.7C353.1,132.6 354.3,132.0 355.5,131.8C356.7,131.6 357.8,131.2 359.0,131.3C360.2,131.4 361.3,132.0 362.5,132.5C363.7,133.0 364.5,133.5 366.4,134.2C368.3,134.8 371.3,135.8 373.7,136.4C376.1,137.1 378.6,137.5 381.0,138.1C383.4,138.7 385.8,139.5 388.2,140.0C390.6,140.5 393.5,140.8 395.5,141.0C397.5,141.2 398.6,141.2 400.0,141.5C401.4,141.8 403.0,141.8 404.0,142.5C405.0,143.2 405.8,144.8 406.0,146.0C406.2,147.2 415.8,149.3 405.5,150.0C395.2,150.7 354.4,150.5 344.2,150.0C334.0,149.5 344.4,148.7 344.2,147.2C344.0,145.7 343.6,143.5 343.2,141.0C342.8,138.5 342.1,134.5 341.6,132.0C341.1,129.5 341.0,127.8 340.4,126.0C339.8,124.2 338.7,122.6 337.9,121.0C337.1,119.4 336.0,117.8 335.5,116.2C335.0,114.6 334.3,112.5 334.7,111.4Z" fill="#c43b3c" />
<path d="M351.8,114.8C352.1,114.0 353.9,113.8 355.0,113.8C356.1,113.8 357.9,113.9 358.4,114.8C358.9,115.7 358.5,118.0 358.0,119.0C357.5,120.0 356.3,121.1 355.5,121.0C354.7,120.9 353.6,119.5 353.0,118.5C352.4,117.5 351.5,115.6 351.8,114.8Z" fill="#f8bfa4" />
<path d="M341.6,120.0C341.9,118.6 343.4,116.9 344.0,117.5C344.6,118.1 344.8,121.1 345.0,123.5C345.2,125.9 345.3,129.2 345.4,132.0C345.5,134.8 345.2,138.1 345.8,140.0C346.4,141.9 347.8,142.4 349.0,143.2C350.2,144.0 351.7,144.1 353.0,144.6C354.3,145.1 355.9,145.6 357.0,146.2C358.1,146.8 359.1,147.4 359.5,148.0C359.9,148.6 362.0,149.7 359.5,150.0C357.0,150.3 347.0,151.5 344.4,150.0C341.8,148.5 344.0,144.0 343.8,141.0C343.6,138.0 343.7,134.5 343.4,132.0C343.1,129.5 342.5,128.0 342.2,126.0C341.9,124.0 341.3,121.4 341.6,120.0Z" fill="#8a0b25" />
<path d="M343.2,124.0C343.3,122.0 344.1,121.2 344.4,123.0C344.7,124.8 345.0,130.7 345.2,135.0C345.4,139.3 345.9,146.7 345.8,149.0C345.7,151.3 344.8,151.3 344.5,149.0C344.2,146.7 344.2,139.2 344.0,135.0C343.8,130.8 343.1,126.0 343.2,124.0Z" fill="#67001f" />
<path d="M268.0,71.5C269.1,65.5 272.5,71.7 274.4,72.0C276.3,72.3 277.3,72.6 279.3,73.3C281.3,74.0 284.1,75.1 286.5,76.3C288.9,77.5 291.6,79.0 293.8,80.5C296.1,82.0 298.1,83.3 300.0,85.0C301.9,86.7 303.7,88.7 305.0,90.5C306.3,92.3 307.2,94.2 308.0,96.0C308.8,97.8 309.2,99.6 309.5,101.6C309.8,103.6 316.9,106.9 310.0,108.0C303.1,109.1 275.0,114.1 268.0,108.0C261.0,101.9 266.9,77.5 268.0,71.5Z" fill="#b1d5e7" />
<path d="M268.0,76.7C269.1,72.7 272.5,76.7 274.4,77.0C276.3,77.3 277.3,78.0 279.3,78.8C281.3,79.6 284.3,80.7 286.5,82.0C288.7,83.3 291.0,85.0 292.6,86.5C294.2,88.0 295.5,89.6 296.3,91.0C297.1,92.4 297.0,93.3 297.3,95.0C297.6,96.7 302.9,100.0 298.0,101.0C293.1,102.0 273.0,105.0 268.0,101.0C263.0,97.0 266.9,80.7 268.0,76.7Z" fill="#6bacd1" />
<path d="M270.0,83.4C271.0,82.6 274.6,83.3 276.0,83.6C277.4,83.9 277.9,84.3 278.4,85.0C278.9,85.7 279.1,87.0 278.8,87.6C278.5,88.2 278.0,88.5 276.5,88.6C275.0,88.7 271.1,89.3 270.0,88.4C268.9,87.5 269.0,84.2 270.0,83.4Z" fill="#327cb7" />
<path d="M274.4,90.0C275.7,90.5 279.4,91.9 282.0,92.9C284.6,93.9 287.3,94.8 290.0,95.8C292.7,96.8 295.3,97.7 298.0,98.8C300.7,99.9 303.7,101.3 306.0,102.5C308.3,103.7 309.8,104.7 312.0,106.0C314.2,107.3 317.0,109.2 319.0,110.5C321.0,111.8 322.3,112.7 324.0,114.0C325.7,115.3 327.5,116.7 329.0,118.2C330.5,119.7 331.8,121.5 333.0,123.2C334.2,124.9 335.3,127.0 336.3,128.5C337.3,130.1 338.2,131.2 339.0,132.5C339.8,133.8 340.3,134.8 340.8,136.0C341.3,137.2 341.6,138.4 342.0,140.0C342.4,141.6 342.8,144.3 343.0,145.5C343.2,146.7 343.4,146.9 343.5,147.2L274.4,147.2Z" fill="#d3d3d3"/>
<path d="M274.4,35.2C275.6,34.7 279.1,33.5 281.7,32.2C284.3,30.9 287.6,28.8 290.0,27.3C292.4,25.8 293.9,24.3 296.0,23.0C298.1,21.7 300.2,20.5 302.3,19.5C304.4,18.5 306.8,17.5 308.4,17.0C310.0,16.5 311.4,16.5 312.0,16.4" fill="none" stroke="#444" stroke-width="0.35" />
<path d="M314.4,16.4C315.0,16.8 316.6,18.1 318.0,18.8C319.4,19.5 321.3,20.6 323.0,20.7C324.7,20.8 326.5,20.1 328.0,19.5C329.5,18.9 331.0,17.8 332.0,17.3C333.0,16.8 333.7,16.5 334.0,16.4" fill="none" stroke="#444" stroke-width="0.35" />
<path d="M274.4,51.6C275.2,51.7 277.7,51.9 279.3,52.2C280.9,52.5 282.2,53.1 284.0,53.3C285.8,53.5 288.4,53.5 290.0,53.3C291.6,53.1 292.8,52.8 293.8,52.0C294.8,51.2 295.0,49.6 296.0,48.6C297.0,47.6 298.6,46.9 300.0,46.0C301.4,45.1 303.3,44.1 304.7,43.0C306.1,41.9 307.2,40.7 308.4,39.5C309.6,38.3 311.0,37.2 312.0,35.8C313.0,34.4 313.6,32.2 314.4,31.0C315.2,29.8 315.8,29.0 316.8,28.5C317.8,28.0 319.3,27.8 320.5,28.0C321.7,28.2 322.8,29.6 324.0,29.8C325.2,30.0 326.5,29.2 327.8,29.0C329.1,28.8 329.9,28.5 331.7,28.5C333.5,28.5 336.6,28.4 338.4,29.2C340.2,30.0 341.1,32.0 342.6,33.4C344.1,34.8 345.9,36.3 347.5,37.6C349.1,38.9 350.7,40.5 352.3,41.3C353.9,42.1 355.2,42.5 357.0,42.5C358.8,42.5 360.8,41.9 363.2,41.3C365.6,40.7 370.3,39.2 371.7,38.8" fill="none" stroke="#444" stroke-width="0.35" />
<path d="M318.7,46.0C318.7,46.3 318.4,48.5 318.7,48.0C319.0,47.5 319.6,44.3 320.5,43.0C321.4,41.7 323.0,40.1 324.0,40.0C325.0,39.9 325.0,42.2 326.5,42.5C328.0,42.8 330.9,42.4 333.0,41.9C335.1,41.4 337.4,39.6 339.0,39.5C340.6,39.4 341.4,40.5 342.6,41.3C343.8,42.1 344.8,43.2 346.2,44.3C347.6,45.4 349.2,47.1 351.0,48.0C352.8,48.9 355.0,49.6 357.0,49.8C359.0,50.0 361.4,49.4 363.2,49.2C364.9,49.0 366.8,48.6 367.5,48.5" fill="none" stroke="#444" stroke-width="0.35" />
<path d="M339.0,16.4C339.4,17.2 340.2,19.5 341.4,21.3C342.6,23.1 344.8,25.7 346.2,27.3C347.6,28.9 348.6,30.2 350.0,31.0C351.4,31.8 353.3,32.4 354.7,32.2C356.1,32.0 357.0,30.6 358.4,29.8C359.8,29.0 361.6,28.1 363.2,27.3C364.8,26.5 366.6,25.5 368.0,25.0C369.4,24.5 371.1,24.4 371.7,24.3" fill="none" stroke="#444" stroke-width="0.35" />
<path d="M340.8,18.2C341.7,18.7 344.5,20.9 346.2,21.3C347.9,21.7 349.6,21.3 351.0,20.7C352.4,20.1 353.9,18.3 354.7,17.6C355.4,16.9 355.4,16.6 355.5,16.4" fill="none" stroke="#444" stroke-width="0.35" />
<path d="M322.0,22.5C323.0,22.2 326.0,20.9 328.0,20.7C330.0,20.5 332.3,21.4 334.0,21.3C335.7,21.2 337.4,19.8 338.4,20.0C339.4,20.2 339.6,21.3 340.2,22.5C340.8,23.7 341.7,26.5 342.0,27.3" fill="none" stroke="#444" stroke-width="0.35" />
<path d="M274.4,58.0C275.6,58.5 279.1,60.0 281.7,61.0C284.3,62.0 287.6,63.2 290.0,64.2C292.4,65.2 294.4,66.2 296.2,67.2C298.0,68.2 299.6,69.4 301.0,70.2C302.4,71.0 303.5,71.7 304.7,72.0C305.9,72.3 306.8,72.3 308.4,72.3C310.0,72.3 313.0,72.5 314.4,72.0C315.8,71.5 316.2,71.3 316.8,69.0C317.4,66.7 317.7,61.8 318.0,58.0C318.3,54.2 318.6,48.0 318.7,46.0" fill="none" stroke="#444" stroke-width="0.35" />
<path d="M322.5,86.0C322.5,84.4 322.1,79.5 322.3,76.3C322.5,73.1 322.9,68.3 323.5,66.6C324.1,64.9 324.9,66.0 325.6,66.3C326.4,66.6 327.2,68.8 328.0,68.4C328.8,68.1 329.5,65.5 330.5,64.2C331.5,62.9 333.0,61.7 334.0,60.5C335.0,59.3 335.7,58.2 336.5,57.0C337.3,55.8 338.0,54.3 339.0,53.3C340.0,52.3 341.4,50.8 342.6,50.8C343.8,50.8 344.6,52.5 346.2,53.3C347.8,54.1 350.3,55.0 352.3,55.7C354.3,56.4 356.6,57.3 358.4,57.5C360.2,57.7 361.6,57.2 363.2,57.0C364.8,56.8 367.2,56.4 368.0,56.3" fill="none" stroke="#444" stroke-width="0.35" />
<path d="M348.7,46.0C349.5,46.4 351.9,47.8 353.5,48.4C355.1,49.0 357.6,49.4 358.4,49.6" fill="none" stroke="#444" stroke-width="0.35" />
<path d="M336.5,86.0C336.7,85.0 337.2,82.2 337.8,80.0C338.4,77.8 339.2,74.7 340.2,72.7C341.2,70.7 342.6,69.0 343.8,67.8C345.0,66.6 346.3,66.0 347.5,65.4C348.7,64.8 349.8,64.2 351.0,64.2C352.2,64.2 353.5,64.8 354.7,65.4C355.9,66.0 357.0,66.8 358.4,67.8C359.8,68.8 361.8,70.4 363.2,71.5C364.6,72.6 365.9,73.7 367.0,74.5C368.1,75.3 369.5,76.0 370.0,76.3" fill="none" stroke="#444" stroke-width="0.35" />
<path d="M351.0,86.0C351.4,85.2 352.5,82.6 353.5,81.2C354.5,79.8 355.8,78.2 357.0,77.5C358.2,76.8 359.6,76.8 360.8,77.0C362.0,77.2 363.2,77.9 364.4,78.7C365.6,79.5 366.6,80.8 368.0,81.8C369.4,82.8 371.0,83.9 373.0,84.8C375.0,85.7 376.8,87.2 380.0,87.4C383.2,87.6 389.0,86.0 392.0,86.2C395.0,86.4 395.4,88.0 398.0,88.6C400.6,89.2 404.6,89.9 407.6,89.8C410.6,89.7 412.6,88.4 416.0,88.0C419.4,87.6 425.0,87.2 428.0,87.4C431.0,87.6 432.0,88.7 434.0,89.2C436.0,89.7 439.0,90.3 440.0,90.5" fill="none" stroke="#444" stroke-width="0.35" />
<path d="M390.0,22.0C393.0,22.2 402.3,22.3 408.0,23.0C413.7,23.7 419.0,25.7 424.0,26.0C429.0,26.3 432.3,25.5 438.0,25.0C443.7,24.5 454.7,23.3 458.0,23.0" fill="none" stroke="#444" stroke-width="0.35" />
<path d="M390.0,39.0C392.3,39.3 399.3,40.8 404.0,41.0C408.7,41.2 414.0,39.7 418.0,40.0C422.0,40.3 424.7,42.7 428.0,43.0C431.3,43.3 433.0,42.8 438.0,42.0C443.0,41.2 454.7,38.7 458.0,38.0" fill="none" stroke="#444" stroke-width="0.35" />
<path d="M385.0,49.6C387.2,50.0 394.5,51.9 398.0,52.0C401.5,52.1 402.7,49.8 406.0,50.0C409.3,50.2 412.7,52.2 418.0,53.0C423.3,53.8 431.3,55.0 438.0,55.0C444.7,55.0 454.7,53.3 458.0,53.0" fill="none" stroke="#444" stroke-width="0.35" />
<path d="M387.0,59.6C388.8,59.8 394.2,60.3 398.0,61.0C401.8,61.7 405.7,63.8 410.0,64.0C414.3,64.2 419.3,61.8 424.0,62.0C428.7,62.2 432.3,64.7 438.0,65.0C443.7,65.3 454.7,64.2 458.0,64.0" fill="none" stroke="#444" stroke-width="0.35" />
<path d="M388.4,79.0C389.0,78.9 390.8,78.0 392.0,78.4C393.2,78.8 394.0,80.9 395.6,81.4C397.2,81.9 399.6,81.9 401.6,81.4C403.6,80.9 405.6,78.9 407.6,78.4C409.6,77.9 411.6,78.2 413.6,78.4C415.6,78.6 417.6,79.5 419.6,79.6C421.6,79.7 423.4,78.9 425.6,79.0C427.8,79.1 430.4,79.8 432.8,80.2C435.2,80.6 435.8,81.4 440.0,81.4C444.2,81.4 455.0,80.2 458.0,80.0" fill="none" stroke="#444" stroke-width="0.35" />
<path d="M358.0,93.5C359.7,93.2 364.3,92.1 368.0,92.0C371.7,91.9 376.0,92.8 380.0,92.8C384.0,92.8 388.0,92.0 392.0,92.2C396.0,92.4 400.0,93.8 404.0,94.0C408.0,94.2 412.0,93.6 416.0,93.4C420.0,93.2 424.0,92.6 428.0,92.8C432.0,93.0 438.0,94.3 440.0,94.6" fill="none" stroke="#444" stroke-width="0.35" />
<path d="M358.0,102.0C359.0,101.2 361.3,98.2 364.0,97.0C366.7,95.8 370.7,95.2 374.0,95.0C377.3,94.8 380.3,95.8 384.0,96.0C387.7,96.2 392.0,96.2 396.0,96.2C400.0,96.2 402.7,95.9 408.0,96.0C413.3,96.1 422.7,96.1 428.0,96.6C433.3,97.1 438.0,98.6 440.0,99.0" fill="none" stroke="#444" stroke-width="0.35" />
<path d="M346.0,122.0C347.0,121.7 350.0,120.7 352.0,120.0C354.0,119.3 355.7,119.3 358.0,118.0C360.3,116.7 363.3,114.2 366.0,112.0C368.7,109.8 371.7,106.7 374.0,105.0C376.3,103.3 377.8,102.5 380.0,101.8C382.2,101.1 384.8,101.3 387.2,100.6C389.6,99.9 391.6,98.2 394.4,97.8C397.2,97.4 400.4,98.0 404.0,98.2C407.6,98.4 412.0,98.8 416.0,98.8C420.0,98.8 424.0,98.2 428.0,98.4C432.0,98.6 435.0,99.6 440.0,100.0C445.0,100.4 455.0,100.8 458.0,101.0" fill="none" stroke="#444" stroke-width="0.35" />
<path d="M358.0,138.0C359.3,137.0 363.5,133.8 366.0,132.0C368.5,130.2 371.8,127.8 373.0,127.0" fill="none" stroke="#444" stroke-width="0.35" />
<path d="M392.0,112.0C392.2,111.0 392.0,107.3 393.0,106.0C394.0,104.7 393.8,104.6 398.0,104.4C402.2,104.2 411.3,104.7 418.0,105.0C424.7,105.3 431.3,105.8 438.0,106.0C444.7,106.2 454.7,106.0 458.0,106.0" fill="none" stroke="#444" stroke-width="0.35" />
<path d="M409.0,140.0C410.2,139.3 413.5,137.2 416.0,136.0C418.5,134.8 422.7,133.5 424.0,133.0" fill="none" stroke="#444" stroke-width="0.35" />
<path d="M442.0,120.0C443.3,119.7 447.3,118.5 450.0,118.0C452.7,117.5 456.7,117.2 458.0,117.0" fill="none" stroke="#444" stroke-width="0.35" />
<path d="M343.5,142.0C343.8,140.3 344.6,135.3 345.0,132.0C345.4,128.7 346.0,125.3 346.0,122.0C346.0,118.7 345.0,114.7 345.0,112.0C345.0,109.3 344.8,107.7 346.0,106.0C347.2,104.3 349.7,103.3 352.0,102.0C354.3,100.7 356.7,99.3 360.0,98.0C363.3,96.7 369.0,94.9 372.0,94.0C375.0,93.1 377.0,92.8 378.0,92.6" fill="none" stroke="#444" stroke-width="0.35" />
<path d="M345.0,146.0C346.2,145.0 349.2,141.5 352.0,140.0C354.8,138.5 358.7,137.7 362.0,137.0C365.3,136.3 370.3,135.8 372.0,135.6" fill="none" stroke="#444" stroke-width="0.35" />
<path d="M274.4,64.2C276.0,64.8 281.0,66.6 284.0,67.8C287.0,69.0 290.4,70.4 292.4,71.2C294.4,72.0 294.8,71.9 296.0,72.7C297.2,73.5 298.4,74.8 299.7,75.8C301.0,76.8 302.6,78.0 304.0,79.0C305.4,80.0 306.7,81.1 308.2,82.0C309.7,82.9 311.6,84.0 313.0,84.5C314.4,85.0 315.5,85.0 316.7,85.2C317.9,85.4 319.4,85.7 320.0,85.8" fill="none" stroke="#444" stroke-width="0.35" />
<path d="M274.4,67.5C276.0,68.2 281.4,70.6 284.0,72.0C286.6,73.4 288.4,75.0 290.0,76.0C291.6,77.0 292.3,77.2 293.6,78.0C294.9,78.8 296.6,80.0 298.0,81.0C299.4,82.0 300.6,83.1 302.0,84.0C303.4,84.9 304.9,85.6 306.4,86.4C307.9,87.2 309.6,87.8 311.2,88.8C312.8,89.8 314.4,91.1 316.0,92.5C317.6,93.9 319.3,95.2 321.0,97.0C322.7,98.8 324.3,100.7 326.0,103.0C327.7,105.3 329.4,108.2 331.0,111.0C332.6,113.8 334.1,117.0 335.5,120.0C336.9,123.0 338.2,126.0 339.3,129.0C340.4,132.0 341.3,135.2 342.0,138.0C342.7,140.8 343.4,144.7 343.7,146.0" fill="none" stroke="#444" stroke-width="0.35" />
<path d="M274.4,71.5C276.0,72.3 281.4,74.7 284.0,76.2C286.6,77.7 288.4,79.3 290.0,80.3C291.6,81.3 292.4,81.3 293.6,82.0C294.8,82.7 296.1,83.7 297.3,84.5C298.5,85.3 299.8,86.2 301.0,87.0C302.2,87.8 303.2,88.4 304.5,89.4C305.8,90.4 307.4,91.7 309.0,93.0C310.6,94.3 312.3,95.9 314.0,97.5C315.7,99.1 317.3,100.8 319.0,102.5C320.7,104.2 322.3,105.9 324.0,108.0C325.7,110.1 327.4,112.5 329.0,115.0C330.6,117.5 332.8,121.7 333.5,123.0" fill="none" stroke="#444" stroke-width="0.35" />
<path d="M274.4,75.0C276.0,75.8 281.4,78.1 284.0,79.5C286.6,80.9 288.5,82.6 290.0,83.6C291.5,84.5 291.9,84.5 293.0,85.2C294.1,85.9 295.6,86.8 296.7,87.6C297.8,88.4 298.5,88.9 299.7,90.0C300.9,91.1 302.4,92.5 304.0,94.0C305.6,95.5 307.3,97.3 309.0,99.0C310.7,100.7 313.2,103.2 314.0,104.0" fill="none" stroke="#444" stroke-width="0.35" />
<path d="M274.4,78.5C276.0,79.2 281.4,81.7 284.0,83.0C286.6,84.3 288.6,85.6 290.0,86.4C291.4,87.2 291.5,87.0 292.4,87.6C293.3,88.2 294.4,89.0 295.5,90.0C296.6,91.0 298.4,92.9 299.0,93.5" fill="none" stroke="#444" stroke-width="0.35" />
<path d="M318.0,94.0C318.8,94.9 321.2,97.2 323.0,99.5C324.8,101.8 326.8,104.6 328.5,107.5C330.2,110.4 331.7,113.8 333.2,117.0C334.7,120.2 336.0,123.7 337.3,127.0C338.6,130.3 339.8,133.8 340.8,137.0C341.8,140.2 342.8,144.5 343.2,146.0" fill="none" stroke="#444" stroke-width="0.35" />
<path d="M323.0,86.0C323.3,86.7 323.8,88.8 325.0,90.0C326.2,91.2 328.2,92.7 330.0,93.0C331.8,93.3 334.3,92.8 336.0,92.0C337.7,91.2 338.8,89.7 340.0,88.0C341.2,86.3 342.5,83.0 343.0,82.0" fill="none" stroke="#444" stroke-width="0.35" />
</g>
<path d="M335.6,135.7L341.3,137.79999999999998L335.6,139.89999999999998Z" fill="#0000ff"/><path d="M345.3,153.29999999999998L347.35,147.5L349.40000000000003,153.29999999999998Z" fill="#ff0000"/>
<rect x="274.1" y="16.4" width="183.5" height="130.7" fill="none" stroke="#333" stroke-width="0.7"/>
<path d="M272.5,147.10H274.1" stroke="#333" stroke-width="0.5"/>
<path d="M272.5,128.43H274.1" stroke="#333" stroke-width="0.5"/>
<path d="M272.5,109.76H274.1" stroke="#333" stroke-width="0.5"/>
<path d="M272.5,91.09H274.1" stroke="#333" stroke-width="0.5"/>
<path d="M272.5,72.41H274.1" stroke="#333" stroke-width="0.5"/>
<path d="M272.5,53.74H274.1" stroke="#333" stroke-width="0.5"/>
<path d="M272.5,35.07H274.1" stroke="#333" stroke-width="0.5"/>
<path d="M272.5,16.40H274.1" stroke="#333" stroke-width="0.5"/>
<path d="M274.10,147.1V148.7" stroke="#333" stroke-width="0.5"/>
<path d="M304.68,147.1V148.7" stroke="#333" stroke-width="0.5"/>
<path d="M335.27,147.1V148.7" stroke="#333" stroke-width="0.5"/>
<path d="M365.85,147.1V148.7" stroke="#333" stroke-width="0.5"/>
<path d="M396.43,147.1V148.7" stroke="#333" stroke-width="0.5"/>
<path d="M427.02,147.1V148.7" stroke="#333" stroke-width="0.5"/>
<path d="M457.60,147.1V148.7" stroke="#333" stroke-width="0.5"/>
<rect x="472.3" y="130.20" width="6.30" height="12.20" fill="#124984"/>
<rect x="472.3" y="118.20" width="6.30" height="12.20" fill="#327cb7"/>
<rect x="472.3" y="106.20" width="6.30" height="12.20" fill="#6bacd1"/>
<rect x="472.3" y="94.20" width="6.30" height="12.20" fill="#b1d5e7"/>
<rect x="472.3" y="82.20" width="6.30" height="12.20" fill="#e4eef4"/>
<rect x="472.3" y="70.20" width="6.30" height="12.20" fill="#fae9df"/>
<rect x="472.3" y="58.20" width="6.30" height="12.20" fill="#f8bfa4"/>
<rect x="472.3" y="46.20" width="6.30" height="12.20" fill="#e48066"/>
<rect x="472.3" y="34.20" width="6.30" height="12.20" fill="#c43b3c"/>
<rect x="472.3" y="22.20" width="6.30" height="12.20" fill="#8a0b25"/>
<path d="M472.3,22.3L475.45000000000005,16.2L478.6,22.3Z" fill="#67001f"/>
<path d="M472.3,142.1L475.45000000000005,148.2L478.6,142.1Z" fill="#053061"/>
<path d="M472.3,22.2L475.45000000000005,16.2L478.6,22.2V142.2L475.45000000000005,148.2L472.3,142.2Z" fill="none" stroke="#888" stroke-width="0.25"/>
<g clip-path="url(#cpc)">
<rect x="30" y="172" width="188" height="136" fill="#fae9df"/>
<path d="M78.0,172.0 L193.0,172.0 L193.0,200.0 L192.5,227.0 L190.0,229.0 L188.0,240.0 L187.0,262.0 L185.0,272.0 L183.0,276.0 L180.0,272.0 L177.0,262.0 L176.5,240.0 L176.0,215.0 L175.0,203.0 L173.5,215.0 L170.0,240.0 L168.5,262.0 L167.0,285.0 L165.0,290.0 L163.5,280.0 L161.5,262.0 L160.0,240.0 L159.0,230.0 L157.5,238.0 L156.5,260.0 L155.0,282.0 L152.0,284.0 L150.5,270.0 L149.5,252.0 L148.0,240.0 L147.0,226.0 L148.0,215.0 L147.5,197.0 L145.0,199.0 L142.0,197.0 L140.5,204.0 L138.0,200.0 L134.5,192.0 L133.0,205.0 L133.0,240.0 L134.5,262.0 L136.5,280.0 L134.5,283.0 L131.0,270.0 L129.5,250.0 L128.5,232.0 L127.0,221.0 L125.5,232.0 L125.0,260.0 L124.0,284.0 L122.5,280.0 L122.0,250.0 L121.5,232.0 L119.0,231.0 L116.5,236.0 L112.0,234.0 L110.0,228.0 L109.5,250.0 L108.5,256.0 L107.8,240.0 L104.0,238.0 L99.0,240.0 L94.0,238.0 L90.0,240.0 L84.5,238.0 L83.5,256.0 L81.0,256.0 L80.5,240.0 L79.5,262.0 L73.5,262.0 L73.0,240.0 L70.0,238.0 L68.5,236.0 L68.0,248.0 L66.0,248.0 L65.5,240.0 L63.5,238.0 L62.0,222.0 L60.0,216.0 L57.0,215.0 L55.0,230.0 L53.0,236.0 L52.0,246.0 L50.0,246.0 L49.0,220.0 L47.5,238.0 L47.0,250.0 L45.0,250.0 L44.0,240.0 L42.0,232.0 L40.5,238.0 L39.0,224.0 L36.0,214.0 L30.0,213.0 L30.0,310.0 L104.0,310.0 L96.0,260.0 L96.0,240.0 L84.0,236.0 L82.0,210.0 L79.0,190.0Z" fill="#e4eef4" />
<path d="M88.0,172.0 L98.0,172.0 L97.0,192.0 L98.0,212.0 L99.0,238.0 L101.0,252.0 L101.0,306.0 L94.0,306.0 L94.0,252.0 L94.0,238.0 L92.0,212.0 L90.0,196.0Z" fill="#fae9df" />
<path d="M106.0,172.0 L112.0,172.0 L110.5,186.0 L108.5,196.0 L107.0,186.0Z" fill="#fae9df" />
<path d="M118.0,172.0 L122.0,172.0 L120.0,182.0Z" fill="#fae9df" />
<path d="M117.0,172.0 L120.0,172.0 L118.5,181.0Z" fill="#fae9df" />
<path d="M178.0,172.0 L182.0,172.0 L180.5,195.0 L179.0,195.0Z" fill="#fae9df" />
<path d="M185.0,172.0 L193.0,172.0 L193.0,186.0 L190.0,184.0 L187.5,178.0Z" fill="#fae9df" />
<path d="M53.0,172.0 L56.0,172.0 L55.5,186.0 L54.5,187.0Z" fill="#e4eef4" />
<path d="M63.0,172.0 L65.0,172.0 L64.0,180.0Z" fill="#e4eef4" />
<path d="M196.0,237.0 L198.0,237.0 L197.6,257.0 L196.4,257.0Z" fill="#e4eef4" />
<path d="M201.0,245.0 L203.0,245.0 L202.6,262.0 L201.4,262.0Z" fill="#e4eef4" />
<path d="M209.6,200.0 L211.6,200.0 L211.4,306.0 L209.8,306.0Z" fill="#e4eef4" />
<path d="M196.0,205.0 L198.0,205.0 L197.6,217.0 L196.4,217.0Z" fill="#e4eef4" />
<path d="M128.0,306.0 L128.3,298.0 L130.7,298.0 L131.0,306.0Z" fill="#e4eef4" />
<path d="M138.0,306.0 L138.3,298.0 L139.7,298.0 L140.0,306.0Z" fill="#e4eef4" />
<path d="M191.0,306.0 L191.3,295.0 L193.7,295.0 L194.0,306.0Z" fill="#e4eef4" />
<path d="M201.0,306.0 L201.3,298.0 L202.7,298.0 L203.0,306.0Z" fill="#e4eef4" />
<path d="M99.2,184.0 L100.4,184.0 L100.2,191.0 L99.4,191.0Z" fill="#b1d5e7" />
<path d="M86.0,268.0C85.9,266.0 86.4,265.0 87.0,264.5C87.6,264.0 88.8,264.7 89.5,265.0C90.2,265.3 90.5,266.3 91.0,266.5C91.5,266.7 92.1,265.1 92.5,266.0C92.9,266.9 93.2,269.7 93.5,272.0C93.8,274.3 93.8,277.5 94.0,280.0C94.2,282.5 94.7,286.0 94.5,287.0C94.3,288.0 93.8,287.0 93.0,286.0C92.2,285.0 90.9,282.6 90.0,281.0C89.1,279.4 88.2,278.7 87.5,276.5C86.8,274.3 86.1,270.0 86.0,268.0Z" fill="#b1d5e7" />
<path d="M103.0,255.0 L107.8,250.0 L108.2,290.0 L105.0,306.0 L102.6,306.0Z" fill="#e4eef4" />
<path d="M103.0,258.0 L105.0,258.0 L104.0,300.0 L102.8,300.0Z" fill="#f3f2f1" />
<path d="M95.8,264.0 L96.8,264.0 L97.2,290.0 L96.0,291.0 L95.5,276.0Z" fill="#f8bfa4" />
<path d="M96.0,270.0 L96.7,270.0 L96.9,286.0 L96.1,286.0Z" fill="#e48066" />
<path d="M97.6,285.0C97.7,283.3 98.4,281.3 98.8,281.0C99.2,280.7 99.8,281.2 100.2,283.0C100.6,284.8 100.8,288.2 101.0,292.0C101.2,295.8 101.7,303.2 101.6,305.5C101.5,307.8 100.6,306.8 100.2,305.5C99.8,304.2 99.5,300.4 99.2,298.0C98.9,295.6 98.5,293.2 98.2,291.0C97.9,288.8 97.5,286.7 97.6,285.0Z" fill="#6bacd1" />
<path d="M98.8,284.0C98.9,282.7 99.5,281.7 99.8,283.0C100.1,284.3 100.5,288.2 100.8,292.0C101.1,295.8 101.5,303.2 101.4,305.5C101.4,307.8 100.8,306.8 100.5,305.5C100.2,304.2 100.0,300.4 99.8,298.0C99.5,295.6 99.2,293.3 99.0,291.0C98.8,288.7 98.7,285.3 98.8,284.0Z" fill="#124984" />
<defs><linearGradient id="rg" x1="0" y1="0" x2="0" y2="1"><stop offset="0" stop-color="#f8bfa4" stop-opacity="0"/><stop offset="0.12" stop-color="#f8bfa4"/><stop offset="0.2" stop-color="#e48066"/><stop offset="0.28" stop-color="#c43b3c"/><stop offset="0.4" stop-color="#8a0b25"/><stop offset="1" stop-color="#8a0b25"/></linearGradient></defs>
<path d="M100.9,254L102.6,254L103,306L101.2,306Z" fill="url(#rg)"/>
<path d="M32.4,247.9C33.7,248.4 37.4,249.8 40.0,250.8C42.6,251.8 45.3,252.7 48.0,253.7C50.7,254.7 53.3,255.6 56.0,256.7C58.7,257.8 61.7,259.2 64.0,260.4C66.3,261.6 67.8,262.6 70.0,263.9C72.2,265.2 75.0,267.1 77.0,268.4C79.0,269.7 80.3,270.6 82.0,271.9C83.7,273.2 85.5,274.6 87.0,276.1C88.5,277.6 89.8,279.4 91.0,281.1C92.2,282.8 93.3,284.8 94.3,286.4C95.3,287.9 96.2,289.1 97.0,290.4C97.8,291.6 98.3,292.6 98.8,293.9C99.3,295.1 99.6,296.3 100.0,297.9C100.4,299.5 100.8,302.2 101.0,303.4C101.2,304.6 101.4,304.8 101.5,305.1L32.4,305.1Z" fill="#d3d3d3"/>
</g>
<path d="M93.7,294.09999999999997L99.4,296.2L93.7,298.3Z" fill="#0000ff"/><path d="M103.4,311.7L105.45,305.9L107.5,311.7Z" fill="#ff0000"/>
<rect x="32.2" y="174.5" width="183.3" height="131.0" fill="none" stroke="#333" stroke-width="0.7"/>
<path d="M30.6,305.50H32.2" stroke="#333" stroke-width="0.5"/>
<path d="M30.6,286.79H32.2" stroke="#333" stroke-width="0.5"/>
<path d="M30.6,268.07H32.2" stroke="#333" stroke-width="0.5"/>
<path d="M30.6,249.36H32.2" stroke="#333" stroke-width="0.5"/>
<path d="M30.6,230.64H32.2" stroke="#333" stroke-width="0.5"/>
<path d="M30.6,211.93H32.2" stroke="#333" stroke-width="0.5"/>
<path d="M30.6,193.21H32.2" stroke="#333" stroke-width="0.5"/>
<path d="M30.6,174.50H32.2" stroke="#333" stroke-width="0.5"/>
<path d="M32.20,305.5V307.1" stroke="#333" stroke-width="0.5"/>
<path d="M62.75,305.5V307.1" stroke="#333" stroke-width="0.5"/>
<path d="M93.30,305.5V307.1" stroke="#333" stroke-width="0.5"/>
<path d="M123.85,305.5V307.1" stroke="#333" stroke-width="0.5"/>
<path d="M154.40,305.5V307.1" stroke="#333" stroke-width="0.5"/>
<path d="M184.95,305.5V307.1" stroke="#333" stroke-width="0.5"/>
<path d="M215.50,305.5V307.1" stroke="#333" stroke-width="0.5"/>
<rect x="229.9" y="288.50" width="6.60" height="12.20" fill="#124984"/>
<rect x="229.9" y="276.50" width="6.60" height="12.20" fill="#327cb7"/>
<rect x="229.9" y="264.50" width="6.60" height="12.20" fill="#6bacd1"/>
<rect x="229.9" y="252.50" width="6.60" height="12.20" fill="#b1d5e7"/>
<rect x="229.9" y="240.50" width="6.60" height="12.20" fill="#e4eef4"/>
<rect x="229.9" y="228.50" width="6.60" height="12.20" fill="#fae9df"/>
<rect x="229.9" y="216.50" width="6.60" height="12.20" fill="#f8bfa4"/>
<rect x="229.9" y="204.50" width="6.60" height="12.20" fill="#e48066"/>
<rect x="229.9" y="192.50" width="6.60" height="12.20" fill="#c43b3c"/>
<rect x="229.9" y="180.50" width="6.60" height="12.20" fill="#8a0b25"/>
<path d="M229.9,180.6L233.2,174.5L236.5,180.6Z" fill="#67001f"/>
<path d="M229.9,300.4L233.2,306.5L236.5,300.4Z" fill="#053061"/>
<path d="M229.9,180.5L233.2,174.5L236.5,180.5V300.5L233.2,306.5L229.9,300.5Z" fill="none" stroke="#888" stroke-width="0.25"/>
<g clip-path="url(#cpd)">
<rect x="272" y="172" width="188" height="136" fill="#f7fbff"/>
<path d="M266.0,239.5C267.5,226.8 272.5,239.7 274.8,239.6C277.1,239.5 278.0,239.1 279.6,239.2C281.2,239.3 282.8,239.9 284.4,240.4C286.0,240.9 287.6,241.6 289.2,242.4C290.8,243.2 292.5,244.3 294.0,245.2C295.5,246.1 296.2,246.8 298.0,247.6C299.8,248.4 302.0,248.8 305.0,250.2C308.0,251.6 312.3,253.9 316.0,256.0C319.7,258.1 323.3,260.1 327.0,262.7C330.7,265.3 335.2,268.6 338.4,271.5C341.6,274.4 344.0,277.4 346.0,280.4C348.0,283.3 349.5,286.1 350.5,289.2C351.5,292.3 351.7,296.4 352.0,299.2C352.3,302.0 352.2,303.2 352.2,306.0C352.2,308.8 366.6,314.3 352.2,316.0C337.8,317.7 280.4,328.8 266.0,316.0C251.6,303.2 264.5,252.2 266.0,239.5Z" fill="#e7f0fa" />
<path d="M266.0,246.5C267.5,234.8 272.8,246.3 274.8,246.0C276.8,245.7 276.4,245.0 278.0,244.8C279.6,244.6 282.7,244.5 284.4,244.8C286.1,245.1 287.1,245.7 288.4,246.4C289.7,247.1 291.1,248.5 292.4,249.2C293.7,249.9 294.8,250.3 296.4,250.8C298.0,251.3 300.4,251.8 302.0,252.4C303.6,253.0 303.7,253.2 306.0,254.6C308.3,256.0 312.5,258.8 316.0,261.0C319.5,263.2 323.7,265.5 327.0,268.0C330.3,270.5 333.4,273.4 336.0,276.0C338.6,278.6 340.9,280.9 342.8,283.7C344.7,286.4 346.2,289.2 347.2,292.5C348.2,295.8 348.4,299.7 348.6,303.6C348.9,307.5 362.5,313.9 348.7,316.0C334.9,318.1 279.8,327.6 266.0,316.0C252.2,304.4 264.5,258.2 266.0,246.5Z" fill="#c6dbef" />
<path d="M332.8,281.5C333.0,280.6 335.1,279.8 336.2,280.4C337.3,280.9 338.6,283.3 339.5,284.8C340.4,286.3 341.3,287.7 341.7,289.2C342.1,290.7 342.6,293.8 342.0,294.0C341.4,294.2 339.6,291.7 338.4,290.3C337.2,288.9 335.9,287.4 335.0,285.9C334.1,284.4 332.6,282.4 332.8,281.5Z" fill="#8dc1dd" />
<path d="M401,305.2L404,303.5L457.6,303.2L457.6,305.2Z" fill="#e7f0fa"/>
<path d="M274.4,247.9C275.7,248.4 279.4,249.8 282.0,250.8C284.6,251.8 287.3,252.7 290.0,253.7C292.7,254.7 295.3,255.6 298.0,256.7C300.7,257.8 303.7,259.2 306.0,260.4C308.3,261.6 309.8,262.6 312.0,263.9C314.2,265.2 317.0,267.1 319.0,268.4C321.0,269.7 322.3,270.6 324.0,271.9C325.7,273.2 327.5,274.6 329.0,276.1C330.5,277.6 331.8,279.4 333.0,281.1C334.2,282.8 335.3,284.8 336.3,286.4C337.3,287.9 338.2,289.1 339.0,290.4C339.8,291.6 340.3,292.6 340.8,293.9C341.3,295.1 341.6,296.3 342.0,297.9C342.4,299.5 342.8,302.2 343.0,303.4C343.2,304.6 343.4,304.8 343.5,305.1L274.4,305.1Z" fill="#d3d3d3"/>
</g>
<path d="M335.6,294.09999999999997L341.3,296.2L335.6,298.3Z" fill="#0000ff"/><path d="M345.3,311.7L347.35,305.9L349.40000000000003,311.7Z" fill="#ff0000"/>
<rect x="274.1" y="174.5" width="183.5" height="131.0" fill="none" stroke="#333" stroke-width="0.7"/>
<path d="M272.5,305.50H274.1" stroke="#333" stroke-width="0.5"/>
<path d="M272.5,286.79H274.1" stroke="#333" stroke-width="0.5"/>
<path d="M272.5,268.07H274.1" stroke="#333" stroke-width="0.5"/>
<path d="M272.5,249.36H274.1" stroke="#333" stroke-width="0.5"/>
<path d="M272.5,230.64H274.1" stroke="#333" stroke-width="0.5"/>
<path d="M272.5,211.93H274.1" stroke="#333" stroke-width="0.5"/>
<path d="M272.5,193.21H274.1" stroke="#333" stroke-width="0.5"/>
<path d="M272.5,174.50H274.1" stroke="#333" stroke-width="0.5"/>
<path d="M274.10,305.5V307.1" stroke="#333" stroke-width="0.5"/>
<path d="M304.68,305.5V307.1" stroke="#333" stroke-width="0.5"/>
<path d="M335.27,305.5V307.1" stroke="#333" stroke-width="0.5"/>
<path d="M365.85,305.5V307.1" stroke="#333" stroke-width="0.5"/>
<path d="M396.43,305.5V307.1" stroke="#333" stroke-width="0.5"/>
<path d="M427.02,305.5V307.1" stroke="#333" stroke-width="0.5"/>
<path d="M457.60,305.5V307.1" stroke="#333" stroke-width="0.5"/>
<rect x="472.3" y="280.50" width="6.30" height="20.20" fill="#e7f0fa"/>
<rect x="472.3" y="260.50" width="6.30" height="20.20" fill="#c6dbef"/>
<rect x="472.3" y="240.50" width="6.30" height="20.20" fill="#8dc1dd"/>
<rect x="472.3" y="220.50" width="6.30" height="20.20" fill="#4f9bcb"/>
<rect x="472.3" y="200.50" width="6.30" height="20.20" fill="#2070b4"/>
<rect x="472.3" y="180.50" width="6.30" height="20.20" fill="#08468b"/>
<path d="M472.3,180.6L475.45000000000005,174.5L478.6,180.6Z" fill="#08306b"/>
<path d="M472.3,300.4L475.45000000000005,306.5L478.6,300.4Z" fill="#f7fbff"/>
<path d="M472.3,180.5L475.45000000000005,174.5L478.6,180.5V300.5L475.45000000000005,306.5L472.3,300.5Z" fill="none" stroke="#888" stroke-width="0.25"/>
<g filter="url(#nf)"><text x="29.6" y="150.00" text-anchor="end" font-size="8.2" font-family="Liberation Sans, sans-serif" fill="#2e2e2e">0.0</text><text x="29.6" y="131.33" text-anchor="end" font-size="8.2" font-family="Liberation Sans, sans-serif" fill="#2e2e2e">0.5</text><text x="29.6" y="112.66" text-anchor="end" font-size="8.2" font-family="Liberation Sans, sans-serif" fill="#2e2e2e">1.0</text><text x="29.6" y="93.99" text-anchor="end" font-size="8.2" font-family="Liberation Sans, sans-serif" fill="#2e2e2e">1.5</text><text x="29.6" y="75.31" text-anchor="end" font-size="8.2" font-family="Liberation Sans, sans-serif" fill="#2e2e2e">2.0</text><text x="29.6" y="56.64" text-anchor="end" font-size="8.2" font-family="Liberation Sans, sans-serif" fill="#2e2e2e">2.5</text><text x="29.6" y="37.97" text-anchor="end" font-size="8.2" font-family="Liberation Sans, sans-serif" fill="#2e2e2e">3.0</text><text x="29.6" y="19.30" text-anchor="end" font-size="8.2" font-family="Liberation Sans, sans-serif" fill="#2e2e2e">3.5</text><text x="32.20" y="155.2" text-anchor="middle" font-size="8.2" font-family="Liberation Sans, sans-serif" fill="#2e2e2e">A</text><text x="62.75" y="155.2" text-anchor="middle" font-size="8.2" font-family="Liberation Sans, sans-serif" fill="#2e2e2e">50</text><text x="93.30" y="155.2" text-anchor="middle" font-size="8.2" font-family="Liberation Sans, sans-serif" fill="#2e2e2e">100</text><text x="123.85" y="155.2" text-anchor="middle" font-size="8.2" font-family="Liberation Sans, sans-serif" fill="#2e2e2e">150</text><text x="154.40" y="155.2" text-anchor="middle" font-size="8.2" font-family="Liberation Sans, sans-serif" fill="#2e2e2e">200</text><text x="184.95" y="155.2" text-anchor="middle" font-size="8.2" font-family="Liberation Sans, sans-serif" fill="#2e2e2e">250</text><text x="215.50" y="155.2" text-anchor="middle" font-size="8.2" font-family="Liberation Sans, sans-serif" fill="#2e2e2e">B</text><text x="32.5" y="13.399999999999999" font-size="9.45" font-weight="bold" font-family="Liberation Sans, sans-serif" fill="#000">WS &amp; Stream Line</text><text x="35.6" y="27.299999999999997" font-size="9.6" font-weight="bold" font-family="Liberation Sans, sans-serif" fill="#000">(a)</text><text x="238.6" y="145.10" font-size="8.2" font-family="Liberation Sans, sans-serif" fill="#1a1a1a">0</text><text x="238.6" y="125.10" font-size="8.2" font-family="Liberation Sans, sans-serif" fill="#1a1a1a">8</text><text x="238.6" y="105.10" font-size="8.2" font-family="Liberation Sans, sans-serif" fill="#1a1a1a">16</text><text x="238.6" y="85.10" font-size="8.2" font-family="Liberation Sans, sans-serif" fill="#1a1a1a">24</text><text x="238.6" y="65.10" font-size="8.2" font-family="Liberation Sans, sans-serif" fill="#1a1a1a">32</text><text x="238.6" y="45.10" font-size="8.2" font-family="Liberation Sans, sans-serif" fill="#1a1a1a">40</text><text x="238.6" y="25.10" font-size="8.2" font-family="Liberation Sans, sans-serif" fill="#1a1a1a">48</text><text transform="translate(226.3,20.0) rotate(-90)" text-anchor="end" font-size="8.3" font-weight="bold" font-family="Liberation Sans, sans-serif" fill="#000">Speed (ms<tspan dy="-3" font-size="5">-1</tspan><tspan dy="3">)</tspan></text><text transform="translate(381,22.6) rotate(-3)" text-anchor="middle" dominant-baseline="central" font-size="6.3" font-family="Liberation Sans, sans-serif" fill="#222">284 K</text><text transform="translate(381,38.6) rotate(0)" text-anchor="middle" dominant-baseline="central" font-size="6.3" font-family="Liberation Sans, sans-serif" fill="#222">282 K</text><text transform="translate(376,48.8) rotate(0)" text-anchor="middle" dominant-baseline="central" font-size="6.3" font-family="Liberation Sans, sans-serif" fill="#222">280 K</text><text transform="translate(377.6,58.6) rotate(2)" text-anchor="middle" dominant-baseline="central" font-size="6.3" font-family="Liberation Sans, sans-serif" fill="#222">278 K</text><text transform="translate(379,78) rotate(0)" text-anchor="middle" dominant-baseline="central" font-size="6.3" font-family="Liberation Sans, sans-serif" fill="#222">276 K</text><text transform="translate(449,89.6) rotate(0)" text-anchor="middle" dominant-baseline="central" font-size="6.3" font-family="Liberation Sans, sans-serif" fill="#222">274 K</text><text transform="translate(450,95) rotate(0)" text-anchor="middle" dominant-baseline="central" font-size="6.3" font-family="Liberation Sans, sans-serif" fill="#222">272 K</text><text transform="translate(450,99.8) rotate(0)" text-anchor="middle" dominant-baseline="central" font-size="6.3" font-family="Liberation Sans, sans-serif" fill="#222">270 K</text><text transform="translate(382.4,118) rotate(-14)" text-anchor="middle" dominant-baseline="central" font-size="6.3" font-family="Liberation Sans, sans-serif" fill="#222">268 K</text><text transform="translate(433,124.4) rotate(-14)" text-anchor="middle" dominant-baseline="central" font-size="6.3" font-family="Liberation Sans, sans-serif" fill="#222">266 K</text><text transform="translate(309.6,96.2) rotate(17)" text-anchor="middle" dominant-baseline="central" font-size="6.3" font-family="Liberation Sans, sans-serif" fill="#222">270 K</text><text x="271.5" y="150.00" text-anchor="end" font-size="8.2" font-family="Liberation Sans, sans-serif" fill="#2e2e2e">0.0</text><text x="271.5" y="131.33" text-anchor="end" font-size="8.2" font-family="Liberation Sans, sans-serif" fill="#2e2e2e">0.5</text><text x="271.5" y="112.66" text-anchor="end" font-size="8.2" font-family="Liberation Sans, sans-serif" fill="#2e2e2e">1.0</text><text x="271.5" y="93.99" text-anchor="end" font-size="8.2" font-family="Liberation Sans, sans-serif" fill="#2e2e2e">1.5</text><text x="271.5" y="75.31" text-anchor="end" font-size="8.2" font-family="Liberation Sans, sans-serif" fill="#2e2e2e">2.0</text><text x="271.5" y="56.64" text-anchor="end" font-size="8.2" font-family="Liberation Sans, sans-serif" fill="#2e2e2e">2.5</text><text x="271.5" y="37.97" text-anchor="end" font-size="8.2" font-family="Liberation Sans, sans-serif" fill="#2e2e2e">3.0</text><text x="271.5" y="19.30" text-anchor="end" font-size="8.2" font-family="Liberation Sans, sans-serif" fill="#2e2e2e">3.5</text><text x="274.10" y="155.2" text-anchor="middle" font-size="8.2" font-family="Liberation Sans, sans-serif" fill="#2e2e2e">A</text><text x="304.68" y="155.2" text-anchor="middle" font-size="8.2" font-family="Liberation Sans, sans-serif" fill="#2e2e2e">50</text><text x="335.27" y="155.2" text-anchor="middle" font-size="8.2" font-family="Liberation Sans, sans-serif" fill="#2e2e2e">100</text><text x="365.85" y="155.2" text-anchor="middle" font-size="8.2" font-family="Liberation Sans, sans-serif" fill="#2e2e2e">150</text><text x="396.43" y="155.2" text-anchor="middle" font-size="8.2" font-family="Liberation Sans, sans-serif" fill="#2e2e2e">200</text><text x="427.02" y="155.2" text-anchor="middle" font-size="8.2" font-family="Liberation Sans, sans-serif" fill="#2e2e2e">250</text><text x="457.60" y="155.2" text-anchor="middle" font-size="8.2" font-family="Liberation Sans, sans-serif" fill="#2e2e2e">B</text><text x="274.40000000000003" y="13.399999999999999" font-size="9.45" font-weight="bold" font-family="Liberation Sans, sans-serif" fill="#000">T &amp; Theta</text><text x="277.5" y="27.299999999999997" font-size="9.6" font-weight="bold" font-family="Liberation Sans, sans-serif" fill="#000">(b)</text><text x="481.5" y="145.10" font-size="8.2" font-family="Liberation Sans, sans-serif" fill="#1a1a1a">-26</text><text x="481.5" y="121.10" font-size="8.2" font-family="Liberation Sans, sans-serif" fill="#1a1a1a">-22</text><text x="481.5" y="97.10" font-size="8.2" font-family="Liberation Sans, sans-serif" fill="#1a1a1a">-18</text><text x="481.5" y="73.10" font-size="8.2" font-family="Liberation Sans, sans-serif" fill="#1a1a1a">-14</text><text x="481.5" y="49.10" font-size="8.2" font-family="Liberation Sans, sans-serif" fill="#1a1a1a">-10</text><text x="481.5" y="25.10" font-size="8.2" font-family="Liberation Sans, sans-serif" fill="#1a1a1a">-6</text><text transform="translate(468.7,20.0) rotate(-90)" text-anchor="end" font-size="8.3" font-weight="bold" font-family="Liberation Sans, sans-serif" fill="#000">Temperature (°C)</text><text x="29.6" y="308.40" text-anchor="end" font-size="8.2" font-family="Liberation Sans, sans-serif" fill="#2e2e2e">0.0</text><text x="29.6" y="289.69" text-anchor="end" font-size="8.2" font-family="Liberation Sans, sans-serif" fill="#2e2e2e">0.5</text><text x="29.6" y="270.97" text-anchor="end" font-size="8.2" font-family="Liberation Sans, sans-serif" fill="#2e2e2e">1.0</text><text x="29.6" y="252.26" text-anchor="end" font-size="8.2" font-family="Liberation Sans, sans-serif" fill="#2e2e2e">1.5</text><text x="29.6" y="233.54" text-anchor="end" font-size="8.2" font-family="Liberation Sans, sans-serif" fill="#2e2e2e">2.0</text><text x="29.6" y="214.83" text-anchor="end" font-size="8.2" font-family="Liberation Sans, sans-serif" fill="#2e2e2e">2.5</text><text x="29.6" y="196.11" text-anchor="end" font-size="8.2" font-family="Liberation Sans, sans-serif" fill="#2e2e2e">3.0</text><text x="29.6" y="177.40" text-anchor="end" font-size="8.2" font-family="Liberation Sans, sans-serif" fill="#2e2e2e">3.5</text><text x="32.20" y="313.6" text-anchor="middle" font-size="8.2" font-family="Liberation Sans, sans-serif" fill="#2e2e2e">A</text><text x="62.75" y="313.6" text-anchor="middle" font-size="8.2" font-family="Liberation Sans, sans-serif" fill="#2e2e2e">50</text><text x="93.30" y="313.6" text-anchor="middle" font-size="8.2" font-family="Liberation Sans, sans-serif" fill="#2e2e2e">100</text><text x="123.85" y="313.6" text-anchor="middle" font-size="8.2" font-family="Liberation Sans, sans-serif" fill="#2e2e2e">150</text><text x="154.40" y="313.6" text-anchor="middle" font-size="8.2" font-family="Liberation Sans, sans-serif" fill="#2e2e2e">200</text><text x="184.95" y="313.6" text-anchor="middle" font-size="8.2" font-family="Liberation Sans, sans-serif" fill="#2e2e2e">250</text><text x="215.50" y="313.6" text-anchor="middle" font-size="8.2" font-family="Liberation Sans, sans-serif" fill="#2e2e2e">B</text><text x="32.5" y="171.5" font-size="9.45" font-weight="bold" font-family="Liberation Sans, sans-serif" fill="#000">W</text><text x="35.6" y="185.4" font-size="9.6" font-weight="bold" font-family="Liberation Sans, sans-serif" fill="#000">(c)</text><text x="239.4" y="291.40" font-size="8.2" font-family="Liberation Sans, sans-serif" fill="#1a1a1a">-1.6</text><text x="239.4" y="267.40" font-size="8.2" font-family="Liberation Sans, sans-serif" fill="#1a1a1a">-0.8</text><text x="238.6" y="243.40" font-size="8.2" font-family="Liberation Sans, sans-serif" fill="#1a1a1a">0.0</text><text x="238.6" y="219.40" font-size="8.2" font-family="Liberation Sans, sans-serif" fill="#1a1a1a">0.8</text><text x="238.6" y="195.40" font-size="8.2" font-family="Liberation Sans, sans-serif" fill="#1a1a1a">1.6</text><text transform="translate(226.3,178.3) rotate(-90)" text-anchor="end" font-size="8.3" font-weight="bold" font-family="Liberation Sans, sans-serif" fill="#000">Speed (ms<tspan dy="-3" font-size="5">-1</tspan><tspan dy="3">)</tspan></text><text x="271.5" y="308.40" text-anchor="end" font-size="8.2" font-family="Liberation Sans, sans-serif" fill="#2e2e2e">0.0</text><text x="271.5" y="289.69" text-anchor="end" font-size="8.2" font-family="Liberation Sans, sans-serif" fill="#2e2e2e">0.5</text><text x="271.5" y="270.97" text-anchor="end" font-size="8.2" font-family="Liberation Sans, sans-serif" fill="#2e2e2e">1.0</text><text x="271.5" y="252.26" text-anchor="end" font-size="8.2" font-family="Liberation Sans, sans-serif" fill="#2e2e2e">1.5</text><text x="271.5" y="233.54" text-anchor="end" font-size="8.2" font-family="Liberation Sans, sans-serif" fill="#2e2e2e">2.0</text><text x="271.5" y="214.83" text-anchor="end" font-size="8.2" font-family="Liberation Sans, sans-serif" fill="#2e2e2e">2.5</text><text x="271.5" y="196.11" text-anchor="end" font-size="8.2" font-family="Liberation Sans, sans-serif" fill="#2e2e2e">3.0</text><text x="271.5" y="177.40" text-anchor="end" font-size="8.2" font-family="Liberation Sans, sans-serif" fill="#2e2e2e">3.5</text><text x="274.10" y="313.6" text-anchor="middle" font-size="8.2" font-family="Liberation Sans, sans-serif" fill="#2e2e2e">A</text><text x="304.68" y="313.6" text-anchor="middle" font-size="8.2" font-family="Liberation Sans, sans-serif" fill="#2e2e2e">50</text><text x="335.27" y="313.6" text-anchor="middle" font-size="8.2" font-family="Liberation Sans, sans-serif" fill="#2e2e2e">100</text><text x="365.85" y="313.6" text-anchor="middle" font-size="8.2" font-family="Liberation Sans, sans-serif" fill="#2e2e2e">150</text><text x="396.43" y="313.6" text-anchor="middle" font-size="8.2" font-family="Liberation Sans, sans-serif" fill="#2e2e2e">200</text><text x="427.02" y="313.6" text-anchor="middle" font-size="8.2" font-family="Liberation Sans, sans-serif" fill="#2e2e2e">250</text><text x="457.60" y="313.6" text-anchor="middle" font-size="8.2" font-family="Liberation Sans, sans-serif" fill="#2e2e2e">B</text><text x="274.40000000000003" y="171.5" font-size="9.45" font-weight="bold" font-family="Liberation Sans, sans-serif" fill="#000">BS Mass Mixing Ratio</text><text x="277.5" y="185.4" font-size="9.6" font-weight="bold" font-family="Liberation Sans, sans-serif" fill="#000">(d)</text><text x="480.90000000000003" y="303.00" font-size="8.2" font-family="Liberation Sans, sans-serif" fill="#1a1a1a">10<tspan dx="-0.3" dy="-3.2" font-size="5" fill="#555">-6</tspan></text><text x="480.90000000000003" y="263.00" font-size="8.2" font-family="Liberation Sans, sans-serif" fill="#1a1a1a">10<tspan dx="-0.3" dy="-3.2" font-size="5" fill="#555">-5</tspan></text><text x="480.90000000000003" y="223.00" font-size="8.2" font-family="Liberation Sans, sans-serif" fill="#1a1a1a">10<tspan dx="-0.3" dy="-3.2" font-size="5" fill="#555">-4</tspan></text><text x="480.90000000000003" y="183.00" font-size="8.2" font-family="Liberation Sans, sans-serif" fill="#1a1a1a">10<tspan dx="-0.3" dy="-3.2" font-size="5" fill="#555">-3</tspan></text><text transform="translate(468.7,178.3) rotate(-90)" text-anchor="end" font-size="8.3" font-weight="bold" font-family="Liberation Sans, sans-serif" fill="#000">Mixing Ratio (kg kg<tspan dy="-3" font-size="5">-1</tspan><tspan dy="3">)</tspan></text><text transform="translate(11.7,81.75) rotate(-90)" text-anchor="middle" font-size="8.6" font-family="Liberation Sans, sans-serif" fill="#1a1a1a">Height (km)</text><text transform="translate(11.7,240.0) rotate(-90)" text-anchor="middle" font-size="8.6" font-family="Liberation Sans, sans-serif" fill="#1a1a1a">Height (km)</text><text x="123.85" y="323" text-anchor="middle" font-size="8.1" font-family="Liberation Sans, sans-serif" fill="#1a1a1a">Distance (km)</text><text x="365.85" y="323" text-anchor="middle" font-size="8.1" font-family="Liberation Sans, sans-serif" fill="#1a1a1a">Distance (km)</text></g>
</svg></body></html>
